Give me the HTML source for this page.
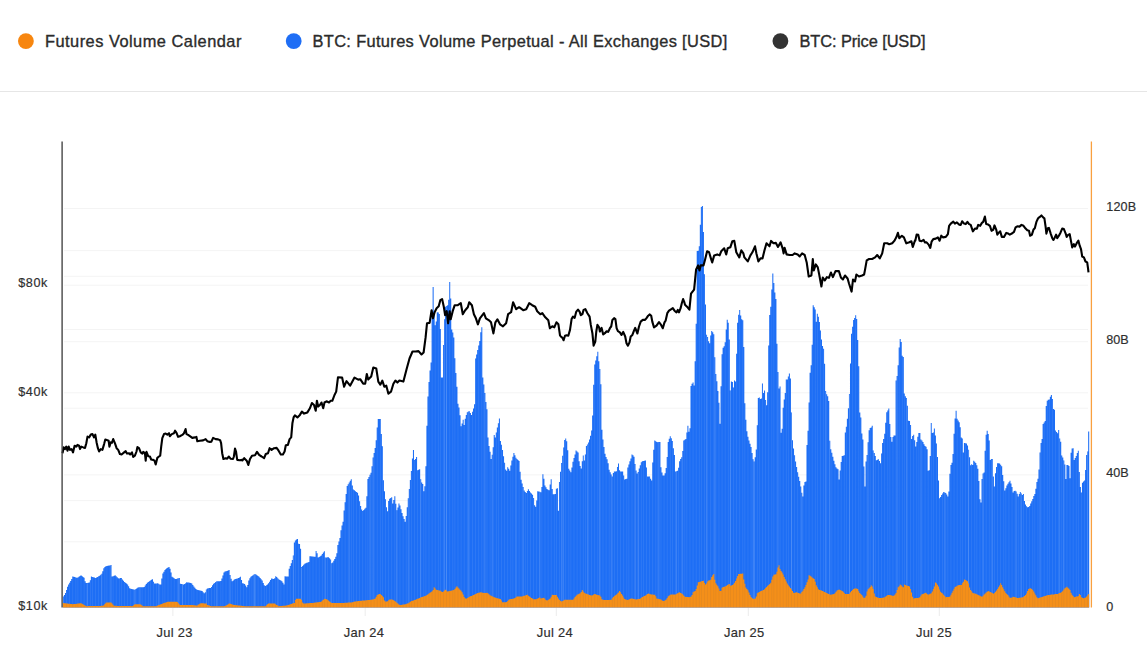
<!DOCTYPE html>
<html><head><meta charset="utf-8"><title>BTC Futures Volume</title>
<style>
html,body{margin:0;padding:0;background:#fff;}
body{width:1147px;height:661px;overflow:hidden;font-family:"Liberation Sans",sans-serif;}
svg{display:block}
text{font-family:"Liberation Sans",sans-serif;fill:#2e2e2e;stroke:#2e2e2e;stroke-width:.18px;}
text.lg{fill:#2b2b2b;stroke:#2b2b2b;stroke-width:.35px;}
</style></head><body>
<svg width="1147" height="661" viewBox="0 0 1147 661">
<rect width="1147" height="661" fill="#fff"/>
<circle cx="25.9" cy="41.1" r="7.9" fill="#f7860f"/>
<circle cx="293.7" cy="41.1" r="7.9" fill="#1f6ef5"/>
<circle cx="780.4" cy="41.1" r="7.9" fill="#333"/>
<line x1="0" x2="1147" y1="91.5" y2="91.5" stroke="#e6e6e6" stroke-width="1"/>
<g stroke="#f4f4f4" stroke-width="1"><line x1="64" x2="1088" y1="208.5" y2="208.5"/><line x1="64" x2="1088" y1="250.6" y2="250.6"/><line x1="64" x2="1088" y1="276.3" y2="276.3"/><line x1="64" x2="1088" y1="285.2" y2="285.2"/><line x1="64" x2="1088" y1="329.5" y2="329.5"/><line x1="64" x2="1088" y1="341.7" y2="341.7"/><line x1="64" x2="1088" y1="392.8" y2="392.8"/><line x1="64" x2="1088" y1="408.2" y2="408.2"/><line x1="64" x2="1088" y1="474.9" y2="474.9"/><line x1="64" x2="1088" y1="500.6" y2="500.6"/><line x1="64" x2="1088" y1="541.8" y2="541.8"/></g>
<g stroke="#ececec" stroke-width="1"><line x1="172.9" x2="172.9" y1="608" y2="616"/><line x1="365.2" x2="365.2" y1="608" y2="616"/><line x1="556.3" x2="556.3" y1="608" y2="616"/><line x1="748.3" x2="748.3" y1="608" y2="616"/><line x1="939.3" x2="939.3" y1="608" y2="616"/></g>
<path d="M62.90 607.5V596.6h1.036V607.5zM63.94 607.5V595.0h1.036V607.5zM64.97 607.5V593.0h1.036V607.5zM66.01 607.5V589.9h1.036V607.5zM67.04 607.5V586.8h1.036V607.5zM68.08 607.5V584.6h1.036V607.5zM69.11 607.5V582.8h1.036V607.5zM70.15 607.5V580.9h1.036V607.5zM71.18 607.5V579.1h1.036V607.5zM72.22 607.5V576.6h1.036V607.5zM73.26 607.5V576.8h1.036V607.5zM74.29 607.5V577.1h1.036V607.5zM75.33 607.5V577.5h1.036V607.5zM76.36 607.5V577.8h1.036V607.5zM77.40 607.5V577.4h1.036V607.5zM78.43 607.5V576.7h1.036V607.5zM79.47 607.5V576.0h1.036V607.5zM80.51 607.5V575.3h1.036V607.5zM81.54 607.5V576.1h1.036V607.5zM82.58 607.5V576.9h1.036V607.5zM83.61 607.5V577.7h1.036V607.5zM84.65 607.5V581.2h1.036V607.5zM85.68 607.5V583.1h1.036V607.5zM86.72 607.5V582.9h1.036V607.5zM87.75 607.5V582.7h1.036V607.5zM88.79 607.5V582.5h1.036V607.5zM89.83 607.5V580.3h1.036V607.5zM90.86 607.5V576.6h1.036V607.5zM91.90 607.5V576.9h1.036V607.5zM92.93 607.5V577.2h1.036V607.5zM93.97 607.5V577.5h1.036V607.5zM95.00 607.5V577.9h1.036V607.5zM96.04 607.5V577.4h1.036V607.5zM97.08 607.5V576.9h1.036V607.5zM98.11 607.5V576.3h1.036V607.5zM99.15 607.5V575.7h1.036V607.5zM100.18 607.5V574.7h1.036V607.5zM101.22 607.5V573.7h1.036V607.5zM102.25 607.5V571.3h1.036V607.5zM103.29 607.5V568.2h1.036V607.5zM104.32 607.5V566.9h1.036V607.5zM105.36 607.5V566.2h1.036V607.5zM106.40 607.5V565.9h1.036V607.5zM107.43 607.5V565.7h1.036V607.5zM108.47 607.5V565.5h1.036V607.5zM109.50 607.5V565.4h1.036V607.5zM110.54 607.5V565.1h1.036V607.5zM111.57 607.5V576.6h1.036V607.5zM112.61 607.5V576.2h1.036V607.5zM113.65 607.5V575.7h1.036V607.5zM114.68 607.5V575.3h1.036V607.5zM115.72 607.5V576.2h1.036V607.5zM116.75 607.5V577.3h1.036V607.5zM117.79 607.5V578.3h1.036V607.5zM118.82 607.5V578.4h1.036V607.5zM119.86 607.5V578.1h1.036V607.5zM120.89 607.5V577.9h1.036V607.5zM121.93 607.5V579.4h1.036V607.5zM122.97 607.5V580.7h1.036V607.5zM124.00 607.5V581.9h1.036V607.5zM125.04 607.5V582.7h1.036V607.5zM126.07 607.5V583.5h1.036V607.5zM127.11 607.5V584.4h1.036V607.5zM128.14 607.5V586.3h1.036V607.5zM129.18 607.5V588.3h1.036V607.5zM130.22 607.5V588.7h1.036V607.5zM131.25 607.5V588.9h1.036V607.5zM132.29 607.5V589.2h1.036V607.5zM133.32 607.5V589.4h1.036V607.5zM134.36 607.5V589.7h1.036V607.5zM135.39 607.5V589.1h1.036V607.5zM136.43 607.5V588.3h1.036V607.5zM137.46 607.5V587.6h1.036V607.5zM138.50 607.5V587.3h1.036V607.5zM139.54 607.5V587.3h1.036V607.5zM140.57 607.5V587.2h1.036V607.5zM141.61 607.5V587.2h1.036V607.5zM142.64 607.5V587.2h1.036V607.5zM143.68 607.5V587.1h1.036V607.5zM144.71 607.5V585.6h1.036V607.5zM145.75 607.5V584.0h1.036V607.5zM146.79 607.5V582.8h1.036V607.5zM147.82 607.5V582.0h1.036V607.5zM148.86 607.5V581.3h1.036V607.5zM149.89 607.5V580.5h1.036V607.5zM150.93 607.5V579.7h1.036V607.5zM151.96 607.5V579.2h1.036V607.5zM153.00 607.5V581.7h1.036V607.5zM154.03 607.5V583.5h1.036V607.5zM155.07 607.5V583.6h1.036V607.5zM156.11 607.5V583.4h1.036V607.5zM157.14 607.5V583.2h1.036V607.5zM158.18 607.5V583.7h1.036V607.5zM159.21 607.5V584.4h1.036V607.5zM160.25 607.5V584.5h1.036V607.5zM161.28 607.5V578.6h1.036V607.5zM162.32 607.5V573.6h1.036V607.5zM163.36 607.5V571.8h1.036V607.5zM164.39 607.5V570.0h1.036V607.5zM165.43 607.5V568.9h1.036V607.5zM166.46 607.5V568.1h1.036V607.5zM167.50 607.5V567.4h1.036V607.5zM168.53 607.5V567.0h1.036V607.5zM169.57 607.5V568.8h1.036V607.5zM170.60 607.5V572.6h1.036V607.5zM171.64 607.5V576.8h1.036V607.5zM172.68 607.5V577.5h1.036V607.5zM173.71 607.5V578.2h1.036V607.5zM174.75 607.5V578.9h1.036V607.5zM175.78 607.5V579.0h1.036V607.5zM176.82 607.5V578.6h1.036V607.5zM177.85 607.5V578.2h1.036V607.5zM178.89 607.5V577.9h1.036V607.5zM179.93 607.5V583.8h1.036V607.5zM180.96 607.5V584.0h1.036V607.5zM182.00 607.5V584.2h1.036V607.5zM183.03 607.5V584.4h1.036V607.5zM184.07 607.5V583.9h1.036V607.5zM185.10 607.5V583.2h1.036V607.5zM186.14 607.5V582.2h1.036V607.5zM187.17 607.5V582.4h1.036V607.5zM188.21 607.5V582.6h1.036V607.5zM189.25 607.5V582.8h1.036V607.5zM190.28 607.5V583.0h1.036V607.5zM191.32 607.5V583.5h1.036V607.5zM192.35 607.5V585.1h1.036V607.5zM193.39 607.5V586.6h1.036V607.5zM194.42 607.5V587.8h1.036V607.5zM195.46 607.5V588.9h1.036V607.5zM196.50 607.5V589.8h1.036V607.5zM197.53 607.5V590.0h1.036V607.5zM198.57 607.5V590.3h1.036V607.5zM199.60 607.5V590.6h1.036V607.5zM200.64 607.5V590.8h1.036V607.5zM201.67 607.5V591.1h1.036V607.5zM202.71 607.5V592.2h1.036V607.5zM203.74 607.5V593.2h1.036V607.5zM204.78 607.5V592.2h1.036V607.5zM205.82 607.5V589.4h1.036V607.5zM206.85 607.5V588.4h1.036V607.5zM207.89 607.5V588.2h1.036V607.5zM208.92 607.5V588.1h1.036V607.5zM209.96 607.5V588.0h1.036V607.5zM210.99 607.5V586.9h1.036V607.5zM212.03 607.5V585.3h1.036V607.5zM213.06 607.5V583.8h1.036V607.5zM214.10 607.5V583.0h1.036V607.5zM215.14 607.5V582.1h1.036V607.5zM216.17 607.5V581.3h1.036V607.5zM217.21 607.5V581.2h1.036V607.5zM218.24 607.5V581.2h1.036V607.5zM219.28 607.5V581.2h1.036V607.5zM220.31 607.5V581.1h1.036V607.5zM221.35 607.5V578.5h1.036V607.5zM222.39 607.5V575.5h1.036V607.5zM223.42 607.5V572.4h1.036V607.5zM224.46 607.5V571.6h1.036V607.5zM225.49 607.5V571.2h1.036V607.5zM226.53 607.5V570.9h1.036V607.5zM227.56 607.5V570.5h1.036V607.5zM228.60 607.5V570.0h1.036V607.5zM229.63 607.5V574.9h1.036V607.5zM230.67 607.5V578.8h1.036V607.5zM231.71 607.5V581.2h1.036V607.5zM232.74 607.5V580.6h1.036V607.5zM233.78 607.5V579.5h1.036V607.5zM234.81 607.5V579.0h1.036V607.5zM235.85 607.5V578.8h1.036V607.5zM236.88 607.5V578.5h1.036V607.5zM237.92 607.5V577.9h1.036V607.5zM238.96 607.5V577.4h1.036V607.5zM239.99 607.5V576.8h1.036V607.5zM241.03 607.5V580.1h1.036V607.5zM242.06 607.5V583.2h1.036V607.5zM243.10 607.5V583.5h1.036V607.5zM244.13 607.5V584.1h1.036V607.5zM245.17 607.5V585.6h1.036V607.5zM246.20 607.5V587.2h1.036V607.5zM247.24 607.5V584.9h1.036V607.5zM248.28 607.5V580.4h1.036V607.5zM249.31 607.5V578.2h1.036V607.5zM250.35 607.5V576.8h1.036V607.5zM251.38 607.5V576.0h1.036V607.5zM252.42 607.5V575.3h1.036V607.5zM253.45 607.5V574.6h1.036V607.5zM254.49 607.5V573.9h1.036V607.5zM255.53 607.5V574.6h1.036V607.5zM256.56 607.5V575.3h1.036V607.5zM257.60 607.5V576.0h1.036V607.5zM258.63 607.5V576.8h1.036V607.5zM259.67 607.5V578.1h1.036V607.5zM260.70 607.5V579.3h1.036V607.5zM261.74 607.5V580.6h1.036V607.5zM262.77 607.5V582.9h1.036V607.5zM263.81 607.5V585.2h1.036V607.5zM264.85 607.5V586.1h1.036V607.5zM265.88 607.5V585.2h1.036V607.5zM266.92 607.5V584.4h1.036V607.5zM267.95 607.5V583.3h1.036V607.5zM268.99 607.5V581.7h1.036V607.5zM270.02 607.5V580.0h1.036V607.5zM271.06 607.5V578.6h1.036V607.5zM272.10 607.5V578.8h1.036V607.5zM273.13 607.5V579.1h1.036V607.5zM274.17 607.5V578.3h1.036V607.5zM275.20 607.5V576.3h1.036V607.5zM276.24 607.5V577.1h1.036V607.5zM277.27 607.5V578.2h1.036V607.5zM278.31 607.5V579.3h1.036V607.5zM279.34 607.5V580.1h1.036V607.5zM280.38 607.5V580.6h1.036V607.5zM281.42 607.5V581.2h1.036V607.5zM282.45 607.5V582.8h1.036V607.5zM283.49 607.5V584.5h1.036V607.5zM284.52 607.5V576.3h1.036V607.5zM285.56 607.5V576.4h1.036V607.5zM286.59 607.5V576.5h1.036V607.5zM287.63 607.5V576.6h1.036V607.5zM288.67 607.5V568.8h1.036V607.5zM289.70 607.5V566.0h1.036V607.5zM290.74 607.5V563.2h1.036V607.5zM291.77 607.5V560.1h1.036V607.5zM292.81 607.5V555.4h1.036V607.5zM293.84 607.5V542.5h1.036V607.5zM294.88 607.5V540.4h1.036V607.5zM295.91 607.5V539.6h1.036V607.5zM296.95 607.5V539.1h1.036V607.5zM297.99 607.5V543.7h1.036V607.5zM299.02 607.5V544.1h1.036V607.5zM300.06 607.5V548.8h1.036V607.5zM301.09 607.5V567.1h1.036V607.5zM302.13 607.5V565.9h1.036V607.5zM303.16 607.5V564.8h1.036V607.5zM304.20 607.5V563.7h1.036V607.5zM305.24 607.5V563.2h1.036V607.5zM306.27 607.5V562.8h1.036V607.5zM307.31 607.5V562.5h1.036V607.5zM308.34 607.5V562.1h1.036V607.5zM309.38 607.5V556.2h1.036V607.5zM310.41 607.5V556.3h1.036V607.5zM311.45 607.5V556.4h1.036V607.5zM312.48 607.5V556.5h1.036V607.5zM313.52 607.5V556.7h1.036V607.5zM314.56 607.5V556.8h1.036V607.5zM315.59 607.5V550.9h1.036V607.5zM316.63 607.5V553.3h1.036V607.5zM317.66 607.5V557.5h1.036V607.5zM318.70 607.5V556.9h1.036V607.5zM319.73 607.5V556.2h1.036V607.5zM320.77 607.5V555.6h1.036V607.5zM321.81 607.5V554.1h1.036V607.5zM322.84 607.5V552.4h1.036V607.5zM323.88 607.5V551.2h1.036V607.5zM324.91 607.5V557.5h1.036V607.5zM325.95 607.5V557.4h1.036V607.5zM326.98 607.5V557.3h1.036V607.5zM328.02 607.5V557.2h1.036V607.5zM329.05 607.5V558.2h1.036V607.5zM330.09 607.5V559.4h1.036V607.5zM331.13 607.5V563.2h1.036V607.5zM332.16 607.5V562.5h1.036V607.5zM333.20 607.5V560.7h1.036V607.5zM334.23 607.5V558.9h1.036V607.5zM335.27 607.5V556.8h1.036V607.5zM336.30 607.5V553.2h1.036V607.5zM337.34 607.5V545.1h1.036V607.5zM338.38 607.5V541.6h1.036V607.5zM339.41 607.5V537.9h1.036V607.5zM340.45 607.5V530.2h1.036V607.5zM341.48 607.5V525.5h1.036V607.5zM342.52 607.5V521.7h1.036V607.5zM343.55 607.5V510.5h1.036V607.5zM344.59 607.5V502.2h1.036V607.5zM345.62 607.5V494.0h1.036V607.5zM346.66 607.5V486.1h1.036V607.5zM347.70 607.5V484.3h1.036V607.5zM348.73 607.5V482.5h1.036V607.5zM349.77 607.5V480.7h1.036V607.5zM350.80 607.5V479.2h1.036V607.5zM351.84 607.5V485.4h1.036V607.5zM352.87 607.5V489.5h1.036V607.5zM353.91 607.5V490.3h1.036V607.5zM354.95 607.5V491.2h1.036V607.5zM355.98 607.5V492.0h1.036V607.5zM357.02 607.5V492.8h1.036V607.5zM358.05 607.5V495.5h1.036V607.5zM359.09 607.5V501.2h1.036V607.5zM360.12 607.5V506.0h1.036V607.5zM361.16 607.5V509.6h1.036V607.5zM362.19 607.5V510.9h1.036V607.5zM363.23 607.5V509.9h1.036V607.5zM364.27 607.5V508.8h1.036V607.5zM365.30 607.5V507.8h1.036V607.5zM366.34 607.5V496.3h1.036V607.5zM367.37 607.5V479.1h1.036V607.5zM368.41 607.5V477.0h1.036V607.5zM369.44 607.5V474.8h1.036V607.5zM370.48 607.5V472.7h1.036V607.5zM371.51 607.5V466.3h1.036V607.5zM372.55 607.5V457.6h1.036V607.5zM373.59 607.5V453.1h1.036V607.5zM374.62 607.5V448.1h1.036V607.5zM375.66 607.5V440.3h1.036V607.5zM376.69 607.5V427.6h1.036V607.5zM377.73 607.5V419.1h1.036V607.5zM378.76 607.5V419.1h1.036V607.5zM379.80 607.5V419.1h1.036V607.5zM380.84 607.5V434.0h1.036V607.5zM381.87 607.5V446.3h1.036V607.5zM382.91 607.5V480.2h1.036V607.5zM383.94 607.5V491.3h1.036V607.5zM384.98 607.5V499.3h1.036V607.5zM386.01 607.5V507.2h1.036V607.5zM387.05 607.5V511.2h1.036V607.5zM388.08 607.5V500.9h1.036V607.5zM389.12 607.5V498.7h1.036V607.5zM390.16 607.5V497.9h1.036V607.5zM391.19 607.5V497.3h1.036V607.5zM392.23 607.5V503.4h1.036V607.5zM393.26 607.5V499.9h1.036V607.5zM394.30 607.5V496.3h1.036V607.5zM395.33 607.5V503.8h1.036V607.5zM396.37 607.5V510.2h1.036V607.5zM397.41 607.5V507.4h1.036V607.5zM398.44 607.5V503.4h1.036V607.5zM399.48 607.5V505.5h1.036V607.5zM400.51 607.5V509.3h1.036V607.5zM401.55 607.5V513.1h1.036V607.5zM402.58 607.5V516.2h1.036V607.5zM403.62 607.5V519.0h1.036V607.5zM404.65 607.5V521.7h1.036V607.5zM405.69 607.5V516.1h1.036V607.5zM406.73 607.5V507.3h1.036V607.5zM407.76 607.5V498.2h1.036V607.5zM408.80 607.5V489.0h1.036V607.5zM409.83 607.5V479.9h1.036V607.5zM410.87 607.5V471.1h1.036V607.5zM411.90 607.5V458.5h1.036V607.5zM412.94 607.5V450.1h1.036V607.5zM413.98 607.5V460.1h1.036V607.5zM415.01 607.5V459.0h1.036V607.5zM416.05 607.5V457.1h1.036V607.5zM417.08 607.5V470.2h1.036V607.5zM418.12 607.5V469.7h1.036V607.5zM419.15 607.5V469.2h1.036V607.5zM420.19 607.5V479.2h1.036V607.5zM421.22 607.5V482.4h1.036V607.5zM422.26 607.5V484.0h1.036V607.5zM423.30 607.5V491.3h1.036V607.5zM424.33 607.5V486.3h1.036V607.5zM425.37 607.5V466.3h1.036V607.5zM426.40 607.5V425.7h1.036V607.5zM427.44 607.5V396.6h1.036V607.5zM428.47 607.5V381.9h1.036V607.5zM429.51 607.5V370.4h1.036V607.5zM430.55 607.5V362.6h1.036V607.5zM431.58 607.5V315.2h1.036V607.5zM432.62 607.5V287.1h1.036V607.5zM433.65 607.5V311.5h1.036V607.5zM434.69 607.5V325.3h1.036V607.5zM435.72 607.5V321.4h1.036V607.5zM436.76 607.5V312.2h1.036V607.5zM437.79 607.5V312.6h1.036V607.5zM438.83 607.5V314.1h1.036V607.5zM439.87 607.5V329.0h1.036V607.5zM440.90 607.5V377.6h1.036V607.5zM441.94 607.5V377.6h1.036V607.5zM442.97 607.5V345.0h1.036V607.5zM444.01 607.5V319.3h1.036V607.5zM445.04 607.5V306.8h1.036V607.5zM446.08 607.5V306.0h1.036V607.5zM447.12 607.5V305.2h1.036V607.5zM448.15 607.5V299.7h1.036V607.5zM449.19 607.5V282.0h1.036V607.5zM450.22 607.5V298.6h1.036V607.5zM451.26 607.5V329.5h1.036V607.5zM452.29 607.5V332.6h1.036V607.5zM453.33 607.5V337.4h1.036V607.5zM454.36 607.5V358.2h1.036V607.5zM455.40 607.5V373.1h1.036V607.5zM456.44 607.5V386.8h1.036V607.5zM457.47 607.5V403.8h1.036V607.5zM458.51 607.5V407.4h1.036V607.5zM459.54 607.5V415.2h1.036V607.5zM460.58 607.5V426.3h1.036V607.5zM461.61 607.5V423.6h1.036V607.5zM462.65 607.5V419.7h1.036V607.5zM463.69 607.5V425.0h1.036V607.5zM464.72 607.5V418.8h1.036V607.5zM465.76 607.5V415.1h1.036V607.5zM466.79 607.5V412.3h1.036V607.5zM467.83 607.5V411.6h1.036V607.5zM468.86 607.5V411.2h1.036V607.5zM469.90 607.5V413.1h1.036V607.5zM470.93 607.5V415.1h1.036V607.5zM471.97 607.5V411.8h1.036V607.5zM473.01 607.5V408.4h1.036V607.5zM474.04 607.5V404.2h1.036V607.5zM475.08 607.5V358.6h1.036V607.5zM476.11 607.5V354.5h1.036V607.5zM477.15 607.5V350.1h1.036V607.5zM478.18 607.5V345.6h1.036V607.5zM479.22 607.5V341.1h1.036V607.5zM480.26 607.5V332.3h1.036V607.5zM481.29 607.5V327.3h1.036V607.5zM482.33 607.5V377.6h1.036V607.5zM483.36 607.5V384.4h1.036V607.5zM484.40 607.5V393.1h1.036V607.5zM485.43 607.5V401.9h1.036V607.5zM486.47 607.5V409.2h1.036V607.5zM487.50 607.5V437.5h1.036V607.5zM488.54 607.5V446.1h1.036V607.5zM489.58 607.5V451.7h1.036V607.5zM490.61 607.5V459.1h1.036V607.5zM491.65 607.5V454.8h1.036V607.5zM492.68 607.5V447.3h1.036V607.5zM493.72 607.5V435.1h1.036V607.5zM494.75 607.5V437.6h1.036V607.5zM495.79 607.5V432.5h1.036V607.5zM496.83 607.5V427.5h1.036V607.5zM497.86 607.5V423.2h1.036V607.5zM498.90 607.5V418.5h1.036V607.5zM499.93 607.5V441.0h1.036V607.5zM500.97 607.5V444.7h1.036V607.5zM502.00 607.5V450.0h1.036V607.5zM503.04 607.5V456.2h1.036V607.5zM504.07 607.5V462.7h1.036V607.5zM505.11 607.5V469.4h1.036V607.5zM506.15 607.5V470.7h1.036V607.5zM507.18 607.5V467.2h1.036V607.5zM508.22 607.5V468.8h1.036V607.5zM509.25 607.5V470.7h1.036V607.5zM510.29 607.5V465.5h1.036V607.5zM511.32 607.5V460.4h1.036V607.5zM512.36 607.5V456.8h1.036V607.5zM513.39 607.5V453.1h1.036V607.5zM514.43 607.5V455.2h1.036V607.5zM515.47 607.5V457.8h1.036V607.5zM516.50 607.5V459.0h1.036V607.5zM517.54 607.5V460.0h1.036V607.5zM518.57 607.5V461.1h1.036V607.5zM519.61 607.5V471.7h1.036V607.5zM520.64 607.5V479.7h1.036V607.5zM521.68 607.5V483.4h1.036V607.5zM522.72 607.5V487.0h1.036V607.5zM523.75 607.5V490.5h1.036V607.5zM524.79 607.5V492.0h1.036V607.5zM525.82 607.5V493.0h1.036V607.5zM526.86 607.5V490.9h1.036V607.5zM527.89 607.5V489.3h1.036V607.5zM528.93 607.5V491.0h1.036V607.5zM529.96 607.5V492.4h1.036V607.5zM531.00 607.5V493.6h1.036V607.5zM532.04 607.5V494.7h1.036V607.5zM533.07 607.5V497.9h1.036V607.5zM534.11 607.5V505.2h1.036V607.5zM535.14 607.5V506.8h1.036V607.5zM536.18 607.5V500.6h1.036V607.5zM537.21 607.5V491.3h1.036V607.5zM538.25 607.5V491.5h1.036V607.5zM539.29 607.5V491.8h1.036V607.5zM540.32 607.5V492.2h1.036V607.5zM541.36 607.5V486.9h1.036V607.5zM542.39 607.5V474.2h1.036V607.5zM543.43 607.5V478.8h1.036V607.5zM544.46 607.5V485.4h1.036V607.5zM545.50 607.5V487.2h1.036V607.5zM546.53 607.5V488.9h1.036V607.5zM547.57 607.5V489.7h1.036V607.5zM548.61 607.5V490.3h1.036V607.5zM549.64 607.5V484.5h1.036V607.5zM550.68 607.5V479.2h1.036V607.5zM551.71 607.5V489.0h1.036V607.5zM552.75 607.5V494.3h1.036V607.5zM553.78 607.5V494.3h1.036V607.5zM554.82 607.5V493.9h1.036V607.5zM555.86 607.5V488.7h1.036V607.5zM556.89 607.5V488.3h1.036V607.5zM557.93 607.5V510.8h1.036V607.5zM558.96 607.5V482.1h1.036V607.5zM560.00 607.5V471.7h1.036V607.5zM561.03 607.5V462.9h1.036V607.5zM562.07 607.5V455.7h1.036V607.5zM563.10 607.5V447.5h1.036V607.5zM564.14 607.5V440.1h1.036V607.5zM565.18 607.5V438.4h1.036V607.5zM566.21 607.5V441.2h1.036V607.5zM567.25 607.5V450.2h1.036V607.5zM568.28 607.5V468.7h1.036V607.5zM569.32 607.5V470.5h1.036V607.5zM570.35 607.5V472.2h1.036V607.5zM571.39 607.5V467.5h1.036V607.5zM572.43 607.5V461.7h1.036V607.5zM573.46 607.5V458.0h1.036V607.5zM574.50 607.5V454.4h1.036V607.5zM575.53 607.5V450.4h1.036V607.5zM576.57 607.5V451.4h1.036V607.5zM577.60 607.5V452.4h1.036V607.5zM578.64 607.5V461.2h1.036V607.5zM579.67 607.5V466.1h1.036V607.5zM580.71 607.5V468.5h1.036V607.5zM581.75 607.5V461.3h1.036V607.5zM582.78 607.5V455.5h1.036V607.5zM583.82 607.5V460.5h1.036V607.5zM584.85 607.5V454.6h1.036V607.5zM585.89 607.5V446.1h1.036V607.5zM586.92 607.5V444.5h1.036V607.5zM587.96 607.5V442.5h1.036V607.5zM589.00 607.5V439.4h1.036V607.5zM590.03 607.5V435.7h1.036V607.5zM591.07 607.5V430.5h1.036V607.5zM592.10 607.5V415.5h1.036V607.5zM593.14 607.5V384.8h1.036V607.5zM594.17 607.5V364.5h1.036V607.5zM595.21 607.5V360.4h1.036V607.5zM596.24 607.5V356.3h1.036V607.5zM597.28 607.5V351.7h1.036V607.5zM598.32 607.5V361.2h1.036V607.5zM599.35 607.5V368.9h1.036V607.5zM600.39 607.5V384.2h1.036V607.5zM601.42 607.5V429.7h1.036V607.5zM602.46 607.5V439.4h1.036V607.5zM603.49 607.5V447.1h1.036V607.5zM604.53 607.5V453.8h1.036V607.5zM605.57 607.5V457.1h1.036V607.5zM606.60 607.5V459.2h1.036V607.5zM607.64 607.5V463.2h1.036V607.5zM608.67 607.5V469.7h1.036V607.5zM609.71 607.5V472.3h1.036V607.5zM610.74 607.5V474.4h1.036V607.5zM611.78 607.5V476.5h1.036V607.5zM612.81 607.5V473.0h1.036V607.5zM613.85 607.5V471.5h1.036V607.5zM614.89 607.5V471.5h1.036V607.5zM615.92 607.5V471.3h1.036V607.5zM616.96 607.5V467.1h1.036V607.5zM617.99 607.5V463.5h1.036V607.5zM619.03 607.5V470.2h1.036V607.5zM620.06 607.5V471.5h1.036V607.5zM621.10 607.5V471.5h1.036V607.5zM622.14 607.5V471.5h1.036V607.5zM623.17 607.5V475.4h1.036V607.5zM624.21 607.5V479.5h1.036V607.5zM625.24 607.5V479.1h1.036V607.5zM626.28 607.5V478.7h1.036V607.5zM627.31 607.5V467.6h1.036V607.5zM628.35 607.5V464.4h1.036V607.5zM629.38 607.5V461.3h1.036V607.5zM630.42 607.5V458.6h1.036V607.5zM631.46 607.5V454.4h1.036V607.5zM632.49 607.5V455.3h1.036V607.5zM633.53 607.5V456.8h1.036V607.5zM634.56 607.5V464.1h1.036V607.5zM635.60 607.5V470.4h1.036V607.5zM636.63 607.5V473.5h1.036V607.5zM637.67 607.5V472.1h1.036V607.5zM638.71 607.5V468.5h1.036V607.5zM639.74 607.5V465.3h1.036V607.5zM640.78 607.5V462.2h1.036V607.5zM641.81 607.5V461.3h1.036V607.5zM642.85 607.5V461.1h1.036V607.5zM643.88 607.5V460.8h1.036V607.5zM644.92 607.5V460.5h1.036V607.5zM645.95 607.5V467.5h1.036V607.5zM646.99 607.5V476.6h1.036V607.5zM648.03 607.5V476.6h1.036V607.5zM649.06 607.5V476.6h1.036V607.5zM650.10 607.5V478.7h1.036V607.5zM651.13 607.5V480.6h1.036V607.5zM652.17 607.5V462.6h1.036V607.5zM653.20 607.5V449.8h1.036V607.5zM654.24 607.5V440.4h1.036V607.5zM655.27 607.5V441.2h1.036V607.5zM656.31 607.5V442.1h1.036V607.5zM657.35 607.5V442.3h1.036V607.5zM658.38 607.5V442.1h1.036V607.5zM659.42 607.5V442.0h1.036V607.5zM660.45 607.5V467.2h1.036V607.5zM661.49 607.5V472.4h1.036V607.5zM662.52 607.5V475.6h1.036V607.5zM663.56 607.5V475.6h1.036V607.5zM664.60 607.5V473.3h1.036V607.5zM665.63 607.5V468.1h1.036V607.5zM666.67 607.5V457.1h1.036V607.5zM667.70 607.5V441.9h1.036V607.5zM668.74 607.5V438.8h1.036V607.5zM669.77 607.5V436.3h1.036V607.5zM670.81 607.5V438.2h1.036V607.5zM671.84 607.5V441.1h1.036V607.5zM672.88 607.5V448.3h1.036V607.5zM673.92 607.5V454.9h1.036V607.5zM674.95 607.5V471.5h1.036V607.5zM675.99 607.5V471.2h1.036V607.5zM677.02 607.5V470.8h1.036V607.5zM678.06 607.5V467.8h1.036V607.5zM679.09 607.5V461.3h1.036V607.5zM680.13 607.5V459.0h1.036V607.5zM681.17 607.5V457.3h1.036V607.5zM682.20 607.5V450.9h1.036V607.5zM683.24 607.5V440.5h1.036V607.5zM684.27 607.5V439.7h1.036V607.5zM685.31 607.5V439.0h1.036V607.5zM686.34 607.5V432.6h1.036V607.5zM687.38 607.5V425.7h1.036V607.5zM688.41 607.5V431.7h1.036V607.5zM689.45 607.5V428.3h1.036V607.5zM690.49 607.5V386.1h1.036V607.5zM691.52 607.5V383.8h1.036V607.5zM692.56 607.5V382.4h1.036V607.5zM693.59 607.5V385.4h1.036V607.5zM694.63 607.5V361.3h1.036V607.5zM695.66 607.5V323.8h1.036V607.5zM696.70 607.5V251.1h1.036V607.5zM697.74 607.5V250.7h1.036V607.5zM698.77 607.5V246.2h1.036V607.5zM699.81 607.5V224.8h1.036V607.5zM700.84 607.5V206.9h1.036V607.5zM701.88 607.5V206.1h1.036V607.5zM702.91 607.5V231.9h1.036V607.5zM703.95 607.5V274.3h1.036V607.5zM704.98 607.5V304.4h1.036V607.5zM706.02 607.5V334.8h1.036V607.5zM707.06 607.5V337.1h1.036V607.5zM708.09 607.5V341.2h1.036V607.5zM709.13 607.5V343.2h1.036V607.5zM710.16 607.5V335.5h1.036V607.5zM711.20 607.5V331.1h1.036V607.5zM712.23 607.5V332.3h1.036V607.5zM713.27 607.5V334.3h1.036V607.5zM714.31 607.5V357.2h1.036V607.5zM715.34 607.5V374.1h1.036V607.5zM716.38 607.5V381.3h1.036V607.5zM717.41 607.5V391.1h1.036V607.5zM718.45 607.5V402.8h1.036V607.5zM719.48 607.5V423.7h1.036V607.5zM720.52 607.5V386.2h1.036V607.5zM721.55 607.5V354.3h1.036V607.5zM722.59 607.5V347.8h1.036V607.5zM723.63 607.5V346.2h1.036V607.5zM724.66 607.5V342.3h1.036V607.5zM725.70 607.5V329.6h1.036V607.5zM726.73 607.5V319.7h1.036V607.5zM727.77 607.5V322.8h1.036V607.5zM728.80 607.5V339.6h1.036V607.5zM729.84 607.5V390.5h1.036V607.5zM730.88 607.5V381.4h1.036V607.5zM731.91 607.5V382.0h1.036V607.5zM732.95 607.5V387.4h1.036V607.5zM733.98 607.5V380.4h1.036V607.5zM735.02 607.5V381.4h1.036V607.5zM736.05 607.5V353.7h1.036V607.5zM737.09 607.5V322.8h1.036V607.5zM738.12 607.5V314.8h1.036V607.5zM739.16 607.5V310.1h1.036V607.5zM740.20 607.5V315.4h1.036V607.5zM741.23 607.5V319.2h1.036V607.5zM742.27 607.5V320.2h1.036V607.5zM743.30 607.5V347.1h1.036V607.5zM744.34 607.5V403.3h1.036V607.5zM745.37 607.5V419.7h1.036V607.5zM746.41 607.5V431.2h1.036V607.5zM747.45 607.5V436.7h1.036V607.5zM748.48 607.5V440.5h1.036V607.5zM749.52 607.5V443.8h1.036V607.5zM750.55 607.5V446.9h1.036V607.5zM751.59 607.5V453.0h1.036V607.5zM752.62 607.5V459.2h1.036V607.5zM753.66 607.5V461.5h1.036V607.5zM754.69 607.5V457.3h1.036V607.5zM755.73 607.5V449.4h1.036V607.5zM756.77 607.5V425.3h1.036V607.5zM757.80 607.5V398.1h1.036V607.5zM758.84 607.5V397.5h1.036V607.5zM759.87 607.5V399.1h1.036V607.5zM760.91 607.5V398.5h1.036V607.5zM761.94 607.5V383.4h1.036V607.5zM762.98 607.5V393.1h1.036V607.5zM764.02 607.5V390.5h1.036V607.5zM765.05 607.5V400.1h1.036V607.5zM766.09 607.5V405.2h1.036V607.5zM767.12 607.5V392.2h1.036V607.5zM768.16 607.5V345.4h1.036V607.5zM769.19 607.5V315.1h1.036V607.5zM770.23 607.5V306.7h1.036V607.5zM771.26 607.5V289.4h1.036V607.5zM772.30 607.5V273.5h1.036V607.5zM773.34 607.5V283.0h1.036V607.5zM774.37 607.5V292.5h1.036V607.5zM775.41 607.5V299.0h1.036V607.5zM776.44 607.5V343.7h1.036V607.5zM777.48 607.5V371.9h1.036V607.5zM778.51 607.5V388.4h1.036V607.5zM779.55 607.5V386.4h1.036V607.5zM780.59 607.5V432.7h1.036V607.5zM781.62 607.5V428.8h1.036V607.5zM782.66 607.5V407.8h1.036V607.5zM783.69 607.5V399.5h1.036V607.5zM784.73 607.5V393.1h1.036V607.5zM785.76 607.5V379.4h1.036V607.5zM786.80 607.5V379.4h1.036V607.5zM787.83 607.5V376.6h1.036V607.5zM788.87 607.5V373.4h1.036V607.5zM789.91 607.5V378.5h1.036V607.5zM790.94 607.5V412.4h1.036V607.5zM791.98 607.5V440.3h1.036V607.5zM793.01 607.5V448.5h1.036V607.5zM794.05 607.5V455.3h1.036V607.5zM795.08 607.5V461.5h1.036V607.5zM796.12 607.5V467.1h1.036V607.5zM797.15 607.5V472.3h1.036V607.5zM798.19 607.5V476.8h1.036V607.5zM799.23 607.5V481.0h1.036V607.5zM800.26 607.5V486.5h1.036V607.5zM801.30 607.5V492.7h1.036V607.5zM802.33 607.5V496.5h1.036V607.5zM803.37 607.5V485.6h1.036V607.5zM804.40 607.5V482.0h1.036V607.5zM805.44 607.5V481.5h1.036V607.5zM806.48 607.5V445.0h1.036V607.5zM807.51 607.5V430.8h1.036V607.5zM808.55 607.5V402.4h1.036V607.5zM809.58 607.5V372.8h1.036V607.5zM810.62 607.5V365.2h1.036V607.5zM811.65 607.5V344.8h1.036V607.5zM812.69 607.5V305.3h1.036V607.5zM813.72 607.5V307.2h1.036V607.5zM814.76 607.5V309.5h1.036V607.5zM815.80 607.5V321.8h1.036V607.5zM816.83 607.5V313.7h1.036V607.5zM817.87 607.5V316.7h1.036V607.5zM818.90 607.5V321.9h1.036V607.5zM819.94 607.5V330.6h1.036V607.5zM820.97 607.5V339.5h1.036V607.5zM822.01 607.5V346.1h1.036V607.5zM823.05 607.5V348.7h1.036V607.5zM824.08 607.5V363.7h1.036V607.5zM825.12 607.5V391.0h1.036V607.5zM826.15 607.5V394.3h1.036V607.5zM827.19 607.5V396.2h1.036V607.5zM828.22 607.5V400.9h1.036V607.5zM829.26 607.5V440.8h1.036V607.5zM830.29 607.5V449.3h1.036V607.5zM831.33 607.5V452.8h1.036V607.5zM832.37 607.5V456.8h1.036V607.5zM833.40 607.5V460.8h1.036V607.5zM834.44 607.5V464.2h1.036V607.5zM835.47 607.5V467.3h1.036V607.5zM836.51 607.5V468.6h1.036V607.5zM837.54 607.5V469.2h1.036V607.5zM838.58 607.5V479.4h1.036V607.5zM839.62 607.5V470.5h1.036V607.5zM840.65 607.5V462.0h1.036V607.5zM841.69 607.5V456.1h1.036V607.5zM842.72 607.5V455.7h1.036V607.5zM843.76 607.5V455.2h1.036V607.5zM844.79 607.5V432.5h1.036V607.5zM845.83 607.5V426.8h1.036V607.5zM846.86 607.5V418.7h1.036V607.5zM847.90 607.5V408.3h1.036V607.5zM848.94 607.5V394.0h1.036V607.5zM849.97 607.5V363.4h1.036V607.5zM851.01 607.5V333.7h1.036V607.5zM852.04 607.5V326.8h1.036V607.5zM853.08 607.5V319.9h1.036V607.5zM854.11 607.5V317.9h1.036V607.5zM855.15 607.5V315.3h1.036V607.5zM856.19 607.5V318.9h1.036V607.5zM857.22 607.5V339.9h1.036V607.5zM858.26 607.5V366.3h1.036V607.5zM859.29 607.5V412.4h1.036V607.5zM860.33 607.5V417.6h1.036V607.5zM861.36 607.5V433.4h1.036V607.5zM862.40 607.5V439.5h1.036V607.5zM863.43 607.5V466.6h1.036V607.5zM864.47 607.5V486.4h1.036V607.5zM865.51 607.5V461.4h1.036V607.5zM866.54 607.5V454.9h1.036V607.5zM867.58 607.5V442.2h1.036V607.5zM868.61 607.5V430.3h1.036V607.5zM869.65 607.5V428.1h1.036V607.5zM870.68 607.5V427.5h1.036V607.5zM871.72 607.5V425.8h1.036V607.5zM872.76 607.5V450.5h1.036V607.5zM873.79 607.5V453.1h1.036V607.5zM874.83 607.5V455.9h1.036V607.5zM875.86 607.5V460.2h1.036V607.5zM876.90 607.5V459.8h1.036V607.5zM877.93 607.5V459.2h1.036V607.5zM878.97 607.5V461.1h1.036V607.5zM880.00 607.5V463.2h1.036V607.5zM881.04 607.5V453.4h1.036V607.5zM882.08 607.5V443.1h1.036V607.5zM883.11 607.5V439.1h1.036V607.5zM884.15 607.5V433.8h1.036V607.5zM885.18 607.5V422.7h1.036V607.5zM886.22 607.5V412.3h1.036V607.5zM887.25 607.5V410.4h1.036V607.5zM888.29 607.5V408.6h1.036V607.5zM889.33 607.5V424.0h1.036V607.5zM890.36 607.5V436.9h1.036V607.5zM891.40 607.5V441.8h1.036V607.5zM892.43 607.5V437.0h1.036V607.5zM893.47 607.5V435.6h1.036V607.5zM894.50 607.5V435.4h1.036V607.5zM895.54 607.5V380.5h1.036V607.5zM896.57 607.5V375.9h1.036V607.5zM897.61 607.5V365.2h1.036V607.5zM898.65 607.5V347.5h1.036V607.5zM899.68 607.5V339.1h1.036V607.5zM900.72 607.5V342.0h1.036V607.5zM901.75 607.5V355.8h1.036V607.5zM902.79 607.5V357.1h1.036V607.5zM903.82 607.5V393.5h1.036V607.5zM904.86 607.5V396.2h1.036V607.5zM905.90 607.5V398.1h1.036V607.5zM906.93 607.5V405.7h1.036V607.5zM907.97 607.5V420.7h1.036V607.5zM909.00 607.5V421.0h1.036V607.5zM910.04 607.5V424.9h1.036V607.5zM911.07 607.5V439.1h1.036V607.5zM912.11 607.5V436.1h1.036V607.5zM913.14 607.5V434.7h1.036V607.5zM914.18 607.5V440.2h1.036V607.5zM915.22 607.5V446.5h1.036V607.5zM916.25 607.5V442.1h1.036V607.5zM917.29 607.5V436.8h1.036V607.5zM918.32 607.5V432.9h1.036V607.5zM919.36 607.5V433.1h1.036V607.5zM920.39 607.5V439.5h1.036V607.5zM921.43 607.5V440.6h1.036V607.5zM922.47 607.5V442.0h1.036V607.5zM923.50 607.5V444.3h1.036V607.5zM924.54 607.5V446.1h1.036V607.5zM925.57 607.5V446.7h1.036V607.5zM926.61 607.5V449.2h1.036V607.5zM927.64 607.5V470.8h1.036V607.5zM928.68 607.5V470.3h1.036V607.5zM929.71 607.5V456.0h1.036V607.5zM930.75 607.5V423.0h1.036V607.5zM931.79 607.5V433.1h1.036V607.5zM932.82 607.5V432.4h1.036V607.5zM933.86 607.5V428.6h1.036V607.5zM934.89 607.5V435.5h1.036V607.5zM935.93 607.5V443.6h1.036V607.5zM936.96 607.5V457.1h1.036V607.5zM938.00 607.5V480.4h1.036V607.5zM939.04 607.5V498.3h1.036V607.5zM940.07 607.5V496.9h1.036V607.5zM941.11 607.5V495.0h1.036V607.5zM942.14 607.5V493.6h1.036V607.5zM943.18 607.5V491.9h1.036V607.5zM944.21 607.5V492.5h1.036V607.5zM945.25 607.5V493.0h1.036V607.5zM946.28 607.5V494.6h1.036V607.5zM947.32 607.5V496.5h1.036V607.5zM948.36 607.5V491.6h1.036V607.5zM949.39 607.5V473.8h1.036V607.5zM950.43 607.5V465.1h1.036V607.5zM951.46 607.5V462.7h1.036V607.5zM952.50 607.5V453.9h1.036V607.5zM953.53 607.5V433.7h1.036V607.5zM954.57 607.5V418.5h1.036V607.5zM955.60 607.5V410.8h1.036V607.5zM956.64 607.5V418.8h1.036V607.5zM957.68 607.5V420.4h1.036V607.5zM958.71 607.5V422.2h1.036V607.5zM959.75 607.5V427.2h1.036V607.5zM960.78 607.5V437.5h1.036V607.5zM961.82 607.5V438.6h1.036V607.5zM962.85 607.5V452.4h1.036V607.5zM963.89 607.5V443.1h1.036V607.5zM964.93 607.5V443.2h1.036V607.5zM965.96 607.5V443.6h1.036V607.5zM967.00 607.5V445.5h1.036V607.5zM968.03 607.5V449.7h1.036V607.5zM969.07 607.5V457.3h1.036V607.5zM970.10 607.5V465.3h1.036V607.5zM971.14 607.5V464.2h1.036V607.5zM972.17 607.5V464.9h1.036V607.5zM973.21 607.5V460.7h1.036V607.5zM974.25 607.5V461.8h1.036V607.5zM975.28 607.5V463.0h1.036V607.5zM976.32 607.5V465.3h1.036V607.5zM977.35 607.5V468.8h1.036V607.5zM978.39 607.5V481.0h1.036V607.5zM979.42 607.5V499.3h1.036V607.5zM980.46 607.5V502.5h1.036V607.5zM981.50 607.5V479.0h1.036V607.5zM982.53 607.5V473.6h1.036V607.5zM983.57 607.5V472.5h1.036V607.5zM984.60 607.5V450.8h1.036V607.5zM985.64 607.5V434.8h1.036V607.5zM986.67 607.5V430.7h1.036V607.5zM987.71 607.5V433.9h1.036V607.5zM988.74 607.5V440.5h1.036V607.5zM989.78 607.5V459.9h1.036V607.5zM990.82 607.5V459.0h1.036V607.5zM991.85 607.5V459.0h1.036V607.5zM992.89 607.5V476.6h1.036V607.5zM993.92 607.5V486.4h1.036V607.5zM994.96 607.5V473.2h1.036V607.5zM995.99 607.5V466.9h1.036V607.5zM997.03 607.5V463.3h1.036V607.5zM998.07 607.5V463.3h1.036V607.5zM999.10 607.5V463.4h1.036V607.5zM1000.14 607.5V464.8h1.036V607.5zM1001.17 607.5V466.3h1.036V607.5zM1002.21 607.5V475.0h1.036V607.5zM1003.24 607.5V481.2h1.036V607.5zM1004.28 607.5V490.4h1.036V607.5zM1005.31 607.5V488.3h1.036V607.5zM1006.35 607.5V485.4h1.036V607.5zM1007.39 607.5V483.8h1.036V607.5zM1008.42 607.5V482.3h1.036V607.5zM1009.46 607.5V480.7h1.036V607.5zM1010.49 607.5V483.6h1.036V607.5zM1011.53 607.5V486.9h1.036V607.5zM1012.56 607.5V492.4h1.036V607.5zM1013.60 607.5V491.1h1.036V607.5zM1014.64 607.5V490.8h1.036V607.5zM1015.67 607.5V491.5h1.036V607.5zM1016.71 607.5V493.8h1.036V607.5zM1017.74 607.5V496.6h1.036V607.5zM1018.78 607.5V493.9h1.036V607.5zM1019.81 607.5V491.9h1.036V607.5zM1020.85 607.5V493.6h1.036V607.5zM1021.88 607.5V494.9h1.036V607.5zM1022.92 607.5V494.1h1.036V607.5zM1023.96 607.5V501.0h1.036V607.5zM1024.99 607.5V504.4h1.036V607.5zM1026.03 607.5V506.2h1.036V607.5zM1027.06 607.5V507.3h1.036V607.5zM1028.10 607.5V506.9h1.036V607.5zM1029.13 607.5V506.1h1.036V607.5zM1030.17 607.5V503.5h1.036V607.5zM1031.21 607.5V501.2h1.036V607.5zM1032.24 607.5V499.1h1.036V607.5zM1033.28 607.5V496.1h1.036V607.5zM1034.31 607.5V493.9h1.036V607.5zM1035.35 607.5V488.7h1.036V607.5zM1036.38 607.5V481.9h1.036V607.5zM1037.42 607.5V478.7h1.036V607.5zM1038.45 607.5V469.4h1.036V607.5zM1039.49 607.5V452.6h1.036V607.5zM1040.53 607.5V442.9h1.036V607.5zM1041.56 607.5V439.0h1.036V607.5zM1042.60 607.5V424.1h1.036V607.5zM1043.63 607.5V422.5h1.036V607.5zM1044.67 607.5V420.9h1.036V607.5zM1045.70 607.5V406.0h1.036V607.5zM1046.74 607.5V400.8h1.036V607.5zM1047.78 607.5V399.8h1.036V607.5zM1048.81 607.5V399.6h1.036V607.5zM1049.85 607.5V396.7h1.036V607.5zM1050.88 607.5V395.0h1.036V607.5zM1051.92 607.5V399.1h1.036V607.5zM1052.95 607.5V409.1h1.036V607.5zM1053.99 607.5V409.8h1.036V607.5zM1055.02 607.5V430.4h1.036V607.5zM1056.06 607.5V432.1h1.036V607.5zM1057.10 607.5V433.2h1.036V607.5zM1058.13 607.5V429.9h1.036V607.5zM1059.17 607.5V438.4h1.036V607.5zM1060.20 607.5V441.8h1.036V607.5zM1061.24 607.5V455.6h1.036V607.5zM1062.27 607.5V457.6h1.036V607.5zM1063.31 607.5V460.6h1.036V607.5zM1064.35 607.5V464.5h1.036V607.5zM1065.38 607.5V479.0h1.036V607.5zM1066.42 607.5V464.9h1.036V607.5zM1067.45 607.5V465.0h1.036V607.5zM1068.49 607.5V465.9h1.036V607.5zM1069.52 607.5V478.3h1.036V607.5zM1070.56 607.5V452.8h1.036V607.5zM1071.59 607.5V448.6h1.036V607.5zM1072.63 607.5V448.2h1.036V607.5zM1073.67 607.5V459.9h1.036V607.5zM1074.70 607.5V458.1h1.036V607.5zM1075.74 607.5V456.0h1.036V607.5zM1076.77 607.5V453.0h1.036V607.5zM1077.81 607.5V450.7h1.036V607.5zM1078.84 607.5V472.1h1.036V607.5zM1079.88 607.5V487.1h1.036V607.5zM1080.92 607.5V492.4h1.036V607.5zM1081.95 607.5V482.8h1.036V607.5zM1082.99 607.5V481.5h1.036V607.5zM1084.02 607.5V480.4h1.036V607.5zM1085.06 607.5V469.9h1.036V607.5zM1086.09 607.5V455.1h1.036V607.5zM1087.13 607.5V451.6h1.036V607.5zM1088.16 607.5V431.6h1.036V607.5z" fill="#1d6ef5"/>
<path d="M66.10 607.5V590.2h0.850V607.5zM69.21 607.5V583.1h0.850V607.5zM72.31 607.5V576.9h0.850V607.5zM75.42 607.5V577.8h0.850V607.5zM77.49 607.5V577.7h0.850V607.5zM80.60 607.5V575.6h0.850V607.5zM83.71 607.5V578.0h0.850V607.5zM86.81 607.5V583.2h0.850V607.5zM89.92 607.5V580.6h0.850V607.5zM91.99 607.5V577.2h0.850V607.5zM95.10 607.5V578.2h0.850V607.5zM98.20 607.5V576.6h0.850V607.5zM101.31 607.5V574.0h0.850V607.5zM104.42 607.5V567.2h0.850V607.5zM106.49 607.5V566.2h0.850V607.5zM109.60 607.5V565.7h0.850V607.5zM112.70 607.5V576.5h0.850V607.5zM115.81 607.5V576.5h0.850V607.5zM118.92 607.5V578.7h0.850V607.5zM120.99 607.5V578.2h0.850V607.5zM124.09 607.5V582.2h0.850V607.5zM127.20 607.5V584.7h0.850V607.5zM130.31 607.5V589.0h0.850V607.5zM133.42 607.5V589.7h0.850V607.5zM135.49 607.5V589.4h0.850V607.5zM138.59 607.5V587.6h0.850V607.5zM141.70 607.5V587.5h0.850V607.5zM144.81 607.5V585.9h0.850V607.5zM147.91 607.5V582.3h0.850V607.5zM149.98 607.5V580.8h0.850V607.5zM153.09 607.5V582.0h0.850V607.5zM156.20 607.5V583.7h0.850V607.5zM159.31 607.5V584.7h0.850V607.5zM162.41 607.5V573.9h0.850V607.5zM164.48 607.5V570.3h0.850V607.5zM167.59 607.5V567.7h0.850V607.5zM170.70 607.5V572.9h0.850V607.5zM173.80 607.5V578.5h0.850V607.5zM176.91 607.5V578.9h0.850V607.5zM178.98 607.5V578.2h0.850V607.5zM182.09 607.5V584.5h0.850V607.5zM185.20 607.5V583.5h0.850V607.5zM188.30 607.5V582.9h0.850V607.5zM191.41 607.5V583.8h0.850V607.5zM193.48 607.5V586.9h0.850V607.5zM196.59 607.5V590.1h0.850V607.5zM199.69 607.5V590.9h0.850V607.5zM202.80 607.5V592.5h0.850V607.5zM205.91 607.5V589.7h0.850V607.5zM207.98 607.5V588.5h0.850V607.5zM211.09 607.5V587.2h0.850V607.5zM214.19 607.5V583.3h0.850V607.5zM217.30 607.5V581.5h0.850V607.5zM220.41 607.5V581.4h0.850V607.5zM222.48 607.5V575.8h0.850V607.5zM225.59 607.5V571.5h0.850V607.5zM228.69 607.5V570.3h0.850V607.5zM231.80 607.5V581.5h0.850V607.5zM234.91 607.5V579.3h0.850V607.5zM236.98 607.5V578.8h0.850V607.5zM240.08 607.5V577.1h0.850V607.5zM243.19 607.5V583.8h0.850V607.5zM246.30 607.5V587.5h0.850V607.5zM249.40 607.5V578.5h0.850V607.5zM251.48 607.5V576.3h0.850V607.5zM254.58 607.5V574.2h0.850V607.5zM257.69 607.5V576.3h0.850V607.5zM260.80 607.5V579.6h0.850V607.5zM263.90 607.5V585.5h0.850V607.5zM265.97 607.5V585.5h0.850V607.5zM269.08 607.5V582.0h0.850V607.5zM272.19 607.5V579.1h0.850V607.5zM275.30 607.5V576.6h0.850V607.5zM278.40 607.5V579.6h0.850V607.5zM280.47 607.5V580.9h0.850V607.5zM283.58 607.5V584.8h0.850V607.5zM286.69 607.5V576.8h0.850V607.5zM289.79 607.5V566.3h0.850V607.5zM292.90 607.5V555.7h0.850V607.5zM294.97 607.5V540.7h0.850V607.5zM298.08 607.5V544.0h0.850V607.5zM301.19 607.5V567.4h0.850V607.5zM304.29 607.5V564.0h0.850V607.5zM307.40 607.5V562.8h0.850V607.5zM309.47 607.5V556.5h0.850V607.5zM312.58 607.5V556.8h0.850V607.5zM315.68 607.5V551.2h0.850V607.5zM318.79 607.5V557.2h0.850V607.5zM321.90 607.5V554.4h0.850V607.5zM323.97 607.5V551.5h0.850V607.5zM327.08 607.5V557.6h0.850V607.5zM330.18 607.5V559.7h0.850V607.5zM333.29 607.5V561.0h0.850V607.5zM336.40 607.5V553.5h0.850V607.5zM338.47 607.5V541.9h0.850V607.5zM341.57 607.5V525.8h0.850V607.5zM344.68 607.5V502.5h0.850V607.5zM347.79 607.5V484.6h0.850V607.5zM350.90 607.5V479.5h0.850V607.5zM352.97 607.5V489.8h0.850V607.5zM356.07 607.5V492.3h0.850V607.5zM359.18 607.5V501.5h0.850V607.5zM362.29 607.5V511.2h0.850V607.5zM365.39 607.5V508.1h0.850V607.5zM367.47 607.5V479.4h0.850V607.5zM370.57 607.5V473.0h0.850V607.5zM373.68 607.5V453.4h0.850V607.5zM376.79 607.5V427.9h0.850V607.5zM379.89 607.5V419.4h0.850V607.5zM381.96 607.5V446.6h0.850V607.5zM385.07 607.5V499.6h0.850V607.5zM388.18 607.5V501.2h0.850V607.5zM391.28 607.5V497.6h0.850V607.5zM394.39 607.5V496.6h0.850V607.5zM396.46 607.5V510.5h0.850V607.5zM399.57 607.5V505.8h0.850V607.5zM402.68 607.5V516.5h0.850V607.5zM405.78 607.5V516.4h0.850V607.5zM408.89 607.5V489.3h0.850V607.5zM410.96 607.5V471.4h0.850V607.5zM414.07 607.5V460.4h0.850V607.5zM417.18 607.5V470.5h0.850V607.5zM420.28 607.5V479.5h0.850V607.5zM423.39 607.5V491.6h0.850V607.5zM425.46 607.5V466.6h0.850V607.5zM428.57 607.5V382.2h0.850V607.5zM431.67 607.5V315.5h0.850V607.5zM434.78 607.5V325.6h0.850V607.5zM437.89 607.5V312.9h0.850V607.5zM439.96 607.5V329.3h0.850V607.5zM443.07 607.5V345.3h0.850V607.5zM446.17 607.5V306.3h0.850V607.5zM449.28 607.5V282.3h0.850V607.5zM452.39 607.5V332.9h0.850V607.5zM454.46 607.5V358.5h0.850V607.5zM457.56 607.5V404.1h0.850V607.5zM460.67 607.5V426.6h0.850V607.5zM463.78 607.5V425.3h0.850V607.5zM466.88 607.5V412.6h0.850V607.5zM468.96 607.5V411.5h0.850V607.5zM472.06 607.5V412.1h0.850V607.5zM475.17 607.5V358.9h0.850V607.5zM478.28 607.5V345.9h0.850V607.5zM481.38 607.5V327.6h0.850V607.5zM483.45 607.5V384.7h0.850V607.5zM486.56 607.5V409.5h0.850V607.5zM489.67 607.5V452.0h0.850V607.5zM492.78 607.5V447.6h0.850V607.5zM495.88 607.5V432.8h0.850V607.5zM497.95 607.5V423.5h0.850V607.5zM501.06 607.5V445.0h0.850V607.5zM504.17 607.5V463.0h0.850V607.5zM507.27 607.5V467.5h0.850V607.5zM510.38 607.5V465.8h0.850V607.5zM512.45 607.5V457.1h0.850V607.5zM515.56 607.5V458.1h0.850V607.5zM518.67 607.5V461.4h0.850V607.5zM521.77 607.5V483.7h0.850V607.5zM524.88 607.5V492.3h0.850V607.5zM526.95 607.5V491.2h0.850V607.5zM530.06 607.5V492.7h0.850V607.5zM533.16 607.5V498.2h0.850V607.5zM536.27 607.5V500.9h0.850V607.5zM539.38 607.5V492.1h0.850V607.5zM541.45 607.5V487.2h0.850V607.5zM544.56 607.5V485.7h0.850V607.5zM547.66 607.5V490.0h0.850V607.5zM550.77 607.5V479.5h0.850V607.5zM553.88 607.5V494.6h0.850V607.5zM555.95 607.5V489.0h0.850V607.5zM559.06 607.5V482.4h0.850V607.5zM562.16 607.5V456.0h0.850V607.5zM565.27 607.5V438.7h0.850V607.5zM568.38 607.5V469.0h0.850V607.5zM570.45 607.5V472.5h0.850V607.5zM573.55 607.5V458.3h0.850V607.5zM576.66 607.5V451.7h0.850V607.5zM579.77 607.5V466.4h0.850V607.5zM582.87 607.5V455.8h0.850V607.5zM584.95 607.5V454.9h0.850V607.5zM588.05 607.5V442.8h0.850V607.5zM591.16 607.5V430.8h0.850V607.5zM594.27 607.5V364.8h0.850V607.5zM597.37 607.5V352.0h0.850V607.5zM599.44 607.5V369.2h0.850V607.5zM602.55 607.5V439.7h0.850V607.5zM605.66 607.5V457.4h0.850V607.5zM608.76 607.5V470.0h0.850V607.5zM611.87 607.5V476.8h0.850V607.5zM613.94 607.5V471.8h0.850V607.5zM617.05 607.5V467.4h0.850V607.5zM620.16 607.5V471.8h0.850V607.5zM623.26 607.5V475.7h0.850V607.5zM626.37 607.5V479.0h0.850V607.5zM628.44 607.5V464.7h0.850V607.5zM631.55 607.5V454.7h0.850V607.5zM634.66 607.5V464.4h0.850V607.5zM637.76 607.5V472.4h0.850V607.5zM640.87 607.5V462.5h0.850V607.5zM642.94 607.5V461.4h0.850V607.5zM646.05 607.5V467.8h0.850V607.5zM649.15 607.5V476.9h0.850V607.5zM652.26 607.5V462.9h0.850V607.5zM655.37 607.5V441.5h0.850V607.5zM657.44 607.5V442.6h0.850V607.5zM660.55 607.5V467.5h0.850V607.5zM663.65 607.5V475.9h0.850V607.5zM666.76 607.5V457.4h0.850V607.5zM669.87 607.5V436.6h0.850V607.5zM671.94 607.5V441.4h0.850V607.5zM675.04 607.5V471.8h0.850V607.5zM678.15 607.5V468.1h0.850V607.5zM681.26 607.5V457.6h0.850V607.5zM684.37 607.5V440.0h0.850V607.5zM686.44 607.5V432.9h0.850V607.5zM689.54 607.5V428.6h0.850V607.5zM692.65 607.5V382.7h0.850V607.5zM695.76 607.5V324.1h0.850V607.5zM698.86 607.5V246.5h0.850V607.5zM700.94 607.5V207.2h0.850V607.5zM704.04 607.5V274.6h0.850V607.5zM707.15 607.5V337.4h0.850V607.5zM710.26 607.5V335.8h0.850V607.5zM713.36 607.5V334.6h0.850V607.5zM715.43 607.5V374.4h0.850V607.5zM718.54 607.5V403.1h0.850V607.5zM721.65 607.5V354.6h0.850V607.5zM724.75 607.5V342.6h0.850V607.5zM727.86 607.5V323.1h0.850V607.5zM729.93 607.5V390.8h0.850V607.5zM733.04 607.5V387.7h0.850V607.5zM736.15 607.5V354.0h0.850V607.5zM739.25 607.5V310.4h0.850V607.5zM742.36 607.5V320.5h0.850V607.5zM744.43 607.5V403.6h0.850V607.5zM747.54 607.5V437.0h0.850V607.5zM750.64 607.5V447.2h0.850V607.5zM753.75 607.5V461.8h0.850V607.5zM756.86 607.5V425.6h0.850V607.5zM758.93 607.5V397.8h0.850V607.5zM762.04 607.5V383.7h0.850V607.5zM765.14 607.5V400.4h0.850V607.5zM768.25 607.5V345.7h0.850V607.5zM771.36 607.5V289.7h0.850V607.5zM773.43 607.5V283.3h0.850V607.5zM776.54 607.5V344.0h0.850V607.5zM779.64 607.5V386.7h0.850V607.5zM782.75 607.5V408.1h0.850V607.5zM785.86 607.5V379.7h0.850V607.5zM787.93 607.5V376.9h0.850V607.5zM791.03 607.5V412.7h0.850V607.5zM794.14 607.5V455.6h0.850V607.5zM797.25 607.5V472.6h0.850V607.5zM800.35 607.5V486.8h0.850V607.5zM802.43 607.5V496.8h0.850V607.5zM805.53 607.5V481.8h0.850V607.5zM808.64 607.5V402.7h0.850V607.5zM811.75 607.5V345.1h0.850V607.5zM814.85 607.5V309.8h0.850V607.5zM816.92 607.5V314.0h0.850V607.5zM820.03 607.5V330.9h0.850V607.5zM823.14 607.5V349.0h0.850V607.5zM826.25 607.5V394.6h0.850V607.5zM829.35 607.5V441.1h0.850V607.5zM831.42 607.5V453.1h0.850V607.5zM834.53 607.5V464.5h0.850V607.5zM837.64 607.5V469.5h0.850V607.5zM840.74 607.5V462.3h0.850V607.5zM843.85 607.5V455.5h0.850V607.5zM845.92 607.5V427.1h0.850V607.5zM849.03 607.5V394.3h0.850V607.5zM852.14 607.5V327.1h0.850V607.5zM855.24 607.5V315.6h0.850V607.5zM858.35 607.5V366.6h0.850V607.5zM860.42 607.5V417.9h0.850V607.5zM863.53 607.5V466.9h0.850V607.5zM866.63 607.5V455.2h0.850V607.5zM869.74 607.5V428.4h0.850V607.5zM872.85 607.5V450.8h0.850V607.5zM874.92 607.5V456.2h0.850V607.5zM878.03 607.5V459.5h0.850V607.5zM881.13 607.5V453.7h0.850V607.5zM884.24 607.5V434.1h0.850V607.5zM887.35 607.5V410.7h0.850V607.5zM889.42 607.5V424.3h0.850V607.5zM892.52 607.5V437.3h0.850V607.5zM895.63 607.5V380.8h0.850V607.5zM898.74 607.5V347.8h0.850V607.5zM901.85 607.5V356.1h0.850V607.5zM903.92 607.5V393.8h0.850V607.5zM907.02 607.5V406.0h0.850V607.5zM910.13 607.5V425.2h0.850V607.5zM913.24 607.5V435.0h0.850V607.5zM916.34 607.5V442.4h0.850V607.5zM918.42 607.5V433.2h0.850V607.5zM921.52 607.5V440.9h0.850V607.5zM924.63 607.5V446.4h0.850V607.5zM927.74 607.5V471.1h0.850V607.5zM930.84 607.5V423.3h0.850V607.5zM932.91 607.5V432.7h0.850V607.5zM936.02 607.5V443.9h0.850V607.5zM939.13 607.5V498.6h0.850V607.5zM942.23 607.5V493.9h0.850V607.5zM945.34 607.5V493.3h0.850V607.5zM947.41 607.5V496.8h0.850V607.5zM950.52 607.5V465.4h0.850V607.5zM953.63 607.5V434.0h0.850V607.5zM956.73 607.5V419.1h0.850V607.5zM959.84 607.5V427.5h0.850V607.5zM961.91 607.5V438.9h0.850V607.5zM965.02 607.5V443.5h0.850V607.5zM968.13 607.5V450.0h0.850V607.5zM971.23 607.5V464.5h0.850V607.5zM974.34 607.5V462.1h0.850V607.5zM976.41 607.5V465.6h0.850V607.5zM979.52 607.5V499.6h0.850V607.5zM982.62 607.5V473.9h0.850V607.5zM985.73 607.5V435.1h0.850V607.5zM988.84 607.5V440.8h0.850V607.5zM990.91 607.5V459.3h0.850V607.5zM994.02 607.5V486.7h0.850V607.5zM997.12 607.5V463.6h0.850V607.5zM1000.23 607.5V465.1h0.850V607.5zM1003.34 607.5V481.5h0.850V607.5zM1005.41 607.5V488.6h0.850V607.5zM1008.51 607.5V482.6h0.850V607.5zM1011.62 607.5V487.2h0.850V607.5zM1014.73 607.5V491.1h0.850V607.5zM1017.83 607.5V496.9h0.850V607.5zM1019.91 607.5V492.2h0.850V607.5zM1023.01 607.5V494.4h0.850V607.5zM1026.12 607.5V506.5h0.850V607.5zM1029.23 607.5V506.4h0.850V607.5zM1032.33 607.5V499.4h0.850V607.5zM1034.40 607.5V494.2h0.850V607.5zM1037.51 607.5V479.0h0.850V607.5zM1040.62 607.5V443.2h0.850V607.5zM1043.73 607.5V422.8h0.850V607.5zM1046.83 607.5V401.1h0.850V607.5zM1048.90 607.5V399.9h0.850V607.5zM1052.01 607.5V399.4h0.850V607.5zM1055.12 607.5V430.7h0.850V607.5zM1058.22 607.5V430.2h0.850V607.5zM1061.33 607.5V455.9h0.850V607.5zM1063.40 607.5V460.9h0.850V607.5zM1066.51 607.5V465.2h0.850V607.5zM1069.62 607.5V478.6h0.850V607.5zM1072.72 607.5V448.5h0.850V607.5zM1075.83 607.5V456.3h0.850V607.5zM1077.90 607.5V451.0h0.850V607.5zM1081.01 607.5V492.7h0.850V607.5zM1084.11 607.5V480.7h0.850V607.5zM1087.22 607.5V451.9h0.850V607.5z" fill="#fff" fill-opacity=".09"/>
<path d="M62.99 607.5V596.9h0.850V607.5zM86.81 607.5V583.2h0.850V607.5zM101.31 607.5V574.0h0.850V607.5zM110.63 607.5V565.4h0.850V607.5zM134.45 607.5V590.0h0.850V607.5zM139.63 607.5V587.6h0.850V607.5zM158.27 607.5V584.0h0.850V607.5zM177.95 607.5V578.5h0.850V607.5zM182.09 607.5V584.5h0.850V607.5zM205.91 607.5V589.7h0.850V607.5zM216.26 607.5V581.6h0.850V607.5zM229.73 607.5V575.2h0.850V607.5zM253.55 607.5V574.9h0.850V607.5zM254.58 607.5V574.2h0.850V607.5zM277.37 607.5V578.5h0.850V607.5zM292.90 607.5V555.7h0.850V607.5zM301.19 607.5V567.4h0.850V607.5zM325.00 607.5V557.8h0.850V607.5zM331.22 607.5V563.5h0.850V607.5zM348.82 607.5V482.8h0.850V607.5zM369.54 607.5V475.1h0.850V607.5zM372.64 607.5V457.9h0.850V607.5zM396.46 607.5V510.5h0.850V607.5zM407.85 607.5V498.5h0.850V607.5zM420.28 607.5V479.5h0.850V607.5zM444.10 607.5V319.6h0.850V607.5zM446.17 607.5V306.3h0.850V607.5zM467.92 607.5V411.9h0.850V607.5zM484.49 607.5V393.4h0.850V607.5zM491.74 607.5V455.1h0.850V607.5zM515.56 607.5V458.1h0.850V607.5zM522.81 607.5V487.3h0.850V607.5zM539.38 607.5V492.1h0.850V607.5zM561.13 607.5V463.2h0.850V607.5zM563.20 607.5V447.8h0.850V607.5zM587.02 607.5V444.8h0.850V607.5zM599.44 607.5V369.2h0.850V607.5zM610.84 607.5V474.7h0.850V607.5zM634.66 607.5V464.4h0.850V607.5zM637.76 607.5V472.4h0.850V607.5zM658.47 607.5V442.4h0.850V607.5zM676.08 607.5V471.5h0.850V607.5zM682.29 607.5V451.2h0.850V607.5zM706.11 607.5V335.1h0.850V607.5zM714.40 607.5V357.5h0.850V607.5zM729.93 607.5V390.8h0.850V607.5zM752.72 607.5V459.5h0.850V607.5zM753.75 607.5V461.8h0.850V607.5zM777.57 607.5V372.2h0.850V607.5zM791.03 607.5V412.7h0.850V607.5zM801.39 607.5V493.0h0.850V607.5zM825.21 607.5V391.3h0.850V607.5zM829.35 607.5V441.1h0.850V607.5zM849.03 607.5V394.3h0.850V607.5zM867.67 607.5V442.5h0.850V607.5zM872.85 607.5V450.8h0.850V607.5zM896.67 607.5V376.2h0.850V607.5zM905.99 607.5V398.4h0.850V607.5zM920.49 607.5V439.8h0.850V607.5zM944.31 607.5V492.8h0.850V607.5zM968.13 607.5V450.0h0.850V607.5zM982.62 607.5V473.9h0.850V607.5zM991.94 607.5V459.3h0.850V607.5zM1015.76 607.5V491.8h0.850V607.5zM1020.94 607.5V493.9h0.850V607.5zM1039.58 607.5V452.9h0.850V607.5zM1059.26 607.5V438.7h0.850V607.5zM1063.40 607.5V460.9h0.850V607.5zM1087.22 607.5V451.9h0.850V607.5z" fill="#fff" fill-opacity=".16"/>
<path d="M62.90 607.5V603.1h1.036V607.5zM63.94 607.5V603.2h1.036V607.5zM64.97 607.5V603.3h1.036V607.5zM66.01 607.5V603.4h1.036V607.5zM67.04 607.5V603.6h1.036V607.5zM68.08 607.5V603.7h1.036V607.5zM69.11 607.5V603.8h1.036V607.5zM70.15 607.5V603.9h1.036V607.5zM71.18 607.5V604.0h1.036V607.5zM72.22 607.5V604.2h1.036V607.5zM73.26 607.5V604.1h1.036V607.5zM74.29 607.5V604.0h1.036V607.5zM75.33 607.5V603.9h1.036V607.5zM76.36 607.5V603.7h1.036V607.5zM77.40 607.5V603.6h1.036V607.5zM78.43 607.5V603.4h1.036V607.5zM79.47 607.5V603.3h1.036V607.5zM80.51 607.5V603.2h1.036V607.5zM81.54 607.5V603.7h1.036V607.5zM82.58 607.5V604.3h1.036V607.5zM83.61 607.5V604.9h1.036V607.5zM84.65 607.5V605.5h1.036V607.5zM85.68 607.5V606.1h1.036V607.5zM86.72 607.5V606.2h1.036V607.5zM87.75 607.5V606.1h1.036V607.5zM88.79 607.5V606.1h1.036V607.5zM89.83 607.5V606.1h1.036V607.5zM90.86 607.5V606.1h1.036V607.5zM91.90 607.5V606.0h1.036V607.5zM92.93 607.5V606.0h1.036V607.5zM93.97 607.5V606.0h1.036V607.5zM95.00 607.5V606.0h1.036V607.5zM96.04 607.5V605.9h1.036V607.5zM97.08 607.5V605.9h1.036V607.5zM98.11 607.5V605.9h1.036V607.5zM99.15 607.5V605.9h1.036V607.5zM100.18 607.5V605.9h1.036V607.5zM101.22 607.5V605.8h1.036V607.5zM102.25 607.5V605.8h1.036V607.5zM103.29 607.5V605.3h1.036V607.5zM104.32 607.5V604.1h1.036V607.5zM105.36 607.5V602.8h1.036V607.5zM106.40 607.5V602.6h1.036V607.5zM107.43 607.5V602.6h1.036V607.5zM108.47 607.5V602.6h1.036V607.5zM109.50 607.5V602.6h1.036V607.5zM110.54 607.5V602.6h1.036V607.5zM111.57 607.5V603.6h1.036V607.5zM112.61 607.5V604.8h1.036V607.5zM113.65 607.5V605.8h1.036V607.5zM114.68 607.5V605.8h1.036V607.5zM115.72 607.5V605.8h1.036V607.5zM116.75 607.5V605.9h1.036V607.5zM117.79 607.5V605.9h1.036V607.5zM118.82 607.5V605.9h1.036V607.5zM119.86 607.5V605.9h1.036V607.5zM120.89 607.5V605.9h1.036V607.5zM121.93 607.5V606.0h1.036V607.5zM122.97 607.5V606.0h1.036V607.5zM124.00 607.5V606.0h1.036V607.5zM125.04 607.5V606.0h1.036V607.5zM126.07 607.5V606.1h1.036V607.5zM127.11 607.5V606.1h1.036V607.5zM128.14 607.5V606.1h1.036V607.5zM129.18 607.5V606.1h1.036V607.5zM130.22 607.5V606.1h1.036V607.5zM131.25 607.5V606.2h1.036V607.5zM132.29 607.5V605.9h1.036V607.5zM133.32 607.5V605.1h1.036V607.5zM134.36 607.5V604.3h1.036V607.5zM135.39 607.5V604.2h1.036V607.5zM136.43 607.5V604.2h1.036V607.5zM137.46 607.5V604.2h1.036V607.5zM138.50 607.5V604.2h1.036V607.5zM139.54 607.5V604.2h1.036V607.5zM140.57 607.5V604.8h1.036V607.5zM141.61 607.5V605.6h1.036V607.5zM142.64 607.5V606.2h1.036V607.5zM143.68 607.5V606.2h1.036V607.5zM144.71 607.5V606.2h1.036V607.5zM145.75 607.5V606.2h1.036V607.5zM146.79 607.5V606.2h1.036V607.5zM147.82 607.5V606.2h1.036V607.5zM148.86 607.5V606.2h1.036V607.5zM149.89 607.5V606.2h1.036V607.5zM150.93 607.5V606.2h1.036V607.5zM151.96 607.5V606.2h1.036V607.5zM153.00 607.5V606.2h1.036V607.5zM154.03 607.5V606.2h1.036V607.5zM155.07 607.5V606.2h1.036V607.5zM156.11 607.5V606.0h1.036V607.5zM157.14 607.5V605.5h1.036V607.5zM158.18 607.5V605.1h1.036V607.5zM159.21 607.5V604.7h1.036V607.5zM160.25 607.5V604.3h1.036V607.5zM161.28 607.5V603.9h1.036V607.5zM162.32 607.5V603.5h1.036V607.5zM163.36 607.5V603.1h1.036V607.5zM164.39 607.5V602.8h1.036V607.5zM165.43 607.5V602.5h1.036V607.5zM166.46 607.5V602.1h1.036V607.5zM167.50 607.5V601.8h1.036V607.5zM168.53 607.5V601.8h1.036V607.5zM169.57 607.5V601.8h1.036V607.5zM170.60 607.5V601.8h1.036V607.5zM171.64 607.5V601.8h1.036V607.5zM172.68 607.5V601.8h1.036V607.5zM173.71 607.5V601.8h1.036V607.5zM174.75 607.5V601.8h1.036V607.5zM175.78 607.5V601.8h1.036V607.5zM176.82 607.5V602.1h1.036V607.5zM177.85 607.5V603.3h1.036V607.5zM178.89 607.5V604.5h1.036V607.5zM179.93 607.5V604.9h1.036V607.5zM180.96 607.5V604.9h1.036V607.5zM182.00 607.5V604.9h1.036V607.5zM183.03 607.5V604.9h1.036V607.5zM184.07 607.5V604.9h1.036V607.5zM185.10 607.5V604.9h1.036V607.5zM186.14 607.5V604.9h1.036V607.5zM187.17 607.5V604.9h1.036V607.5zM188.21 607.5V604.9h1.036V607.5zM189.25 607.5V604.9h1.036V607.5zM190.28 607.5V604.9h1.036V607.5zM191.32 607.5V604.9h1.036V607.5zM192.35 607.5V605.0h1.036V607.5zM193.39 607.5V605.2h1.036V607.5zM194.42 607.5V605.3h1.036V607.5zM195.46 607.5V605.4h1.036V607.5zM196.50 607.5V605.4h1.036V607.5zM197.53 607.5V604.8h1.036V607.5zM198.57 607.5V604.2h1.036V607.5zM199.60 607.5V603.6h1.036V607.5zM200.64 607.5V603.2h1.036V607.5zM201.67 607.5V603.2h1.036V607.5zM202.71 607.5V603.3h1.036V607.5zM203.74 607.5V603.4h1.036V607.5zM204.78 607.5V603.4h1.036V607.5zM205.82 607.5V603.5h1.036V607.5zM206.85 607.5V604.9h1.036V607.5zM207.89 607.5V605.3h1.036V607.5zM208.92 607.5V605.6h1.036V607.5zM209.96 607.5V605.9h1.036V607.5zM210.99 607.5V606.2h1.036V607.5zM212.03 607.5V606.2h1.036V607.5zM213.06 607.5V606.2h1.036V607.5zM214.10 607.5V606.2h1.036V607.5zM215.14 607.5V606.2h1.036V607.5zM216.17 607.5V606.2h1.036V607.5zM217.21 607.5V606.2h1.036V607.5zM218.24 607.5V606.2h1.036V607.5zM219.28 607.5V606.2h1.036V607.5zM220.31 607.5V606.2h1.036V607.5zM221.35 607.5V606.2h1.036V607.5zM222.39 607.5V606.2h1.036V607.5zM223.42 607.5V606.2h1.036V607.5zM224.46 607.5V606.0h1.036V607.5zM225.49 607.5V605.5h1.036V607.5zM226.53 607.5V604.9h1.036V607.5zM227.56 607.5V604.3h1.036V607.5zM228.60 607.5V603.6h1.036V607.5zM229.63 607.5V603.8h1.036V607.5zM230.67 607.5V604.1h1.036V607.5zM231.71 607.5V604.4h1.036V607.5zM232.74 607.5V604.7h1.036V607.5zM233.78 607.5V604.9h1.036V607.5zM234.81 607.5V605.0h1.036V607.5zM235.85 607.5V605.2h1.036V607.5zM236.88 607.5V605.3h1.036V607.5zM237.92 607.5V605.4h1.036V607.5zM238.96 607.5V605.6h1.036V607.5zM239.99 607.5V605.7h1.036V607.5zM241.03 607.5V605.8h1.036V607.5zM242.06 607.5V605.9h1.036V607.5zM243.10 607.5V606.1h1.036V607.5zM244.13 607.5V606.2h1.036V607.5zM245.17 607.5V606.2h1.036V607.5zM246.20 607.5V606.2h1.036V607.5zM247.24 607.5V606.2h1.036V607.5zM248.28 607.5V606.2h1.036V607.5zM249.31 607.5V606.2h1.036V607.5zM250.35 607.5V606.2h1.036V607.5zM251.38 607.5V606.2h1.036V607.5zM252.42 607.5V606.2h1.036V607.5zM253.45 607.5V606.2h1.036V607.5zM254.49 607.5V606.2h1.036V607.5zM255.53 607.5V606.2h1.036V607.5zM256.56 607.5V606.2h1.036V607.5zM257.60 607.5V606.2h1.036V607.5zM258.63 607.5V606.2h1.036V607.5zM259.67 607.5V606.2h1.036V607.5zM260.70 607.5V606.2h1.036V607.5zM261.74 607.5V606.2h1.036V607.5zM262.77 607.5V606.2h1.036V607.5zM263.81 607.5V606.2h1.036V607.5zM264.85 607.5V606.2h1.036V607.5zM265.88 607.5V605.3h1.036V607.5zM266.92 607.5V604.3h1.036V607.5zM267.95 607.5V603.6h1.036V607.5zM268.99 607.5V603.6h1.036V607.5zM270.02 607.5V603.6h1.036V607.5zM271.06 607.5V603.6h1.036V607.5zM272.10 607.5V603.6h1.036V607.5zM273.13 607.5V603.6h1.036V607.5zM274.17 607.5V603.6h1.036V607.5zM275.20 607.5V604.2h1.036V607.5zM276.24 607.5V604.9h1.036V607.5zM277.27 607.5V605.6h1.036V607.5zM278.31 607.5V606.2h1.036V607.5zM279.34 607.5V606.1h1.036V607.5zM280.38 607.5V606.0h1.036V607.5zM281.42 607.5V605.9h1.036V607.5zM282.45 607.5V605.8h1.036V607.5zM283.49 607.5V605.7h1.036V607.5zM284.52 607.5V605.7h1.036V607.5zM285.56 607.5V605.6h1.036V607.5zM286.59 607.5V605.3h1.036V607.5zM287.63 607.5V605.0h1.036V607.5zM288.67 607.5V604.7h1.036V607.5zM289.70 607.5V604.3h1.036V607.5zM290.74 607.5V604.0h1.036V607.5zM291.77 607.5V603.6h1.036V607.5zM292.81 607.5V603.3h1.036V607.5zM293.84 607.5V602.9h1.036V607.5zM294.88 607.5V599.9h1.036V607.5zM295.91 607.5V598.7h1.036V607.5zM296.95 607.5V598.7h1.036V607.5zM297.99 607.5V598.7h1.036V607.5zM299.02 607.5V598.7h1.036V607.5zM300.06 607.5V598.7h1.036V607.5zM301.09 607.5V600.1h1.036V607.5zM302.13 607.5V602.6h1.036V607.5zM303.16 607.5V603.5h1.036V607.5zM304.20 607.5V603.4h1.036V607.5zM305.24 607.5V603.4h1.036V607.5zM306.27 607.5V603.3h1.036V607.5zM307.31 607.5V603.2h1.036V607.5zM308.34 607.5V603.2h1.036V607.5zM309.38 607.5V603.1h1.036V607.5zM310.41 607.5V603.0h1.036V607.5zM311.45 607.5V603.0h1.036V607.5zM312.48 607.5V602.9h1.036V607.5zM313.52 607.5V602.7h1.036V607.5zM314.56 607.5V602.6h1.036V607.5zM315.59 607.5V602.5h1.036V607.5zM316.63 607.5V602.3h1.036V607.5zM317.66 607.5V602.2h1.036V607.5zM318.70 607.5V602.1h1.036V607.5zM319.73 607.5V601.9h1.036V607.5zM320.77 607.5V601.4h1.036V607.5zM321.81 607.5V600.6h1.036V607.5zM322.84 607.5V599.8h1.036V607.5zM323.88 607.5V598.7h1.036V607.5zM324.91 607.5V598.9h1.036V607.5zM325.95 607.5V599.3h1.036V607.5zM326.98 607.5V599.7h1.036V607.5zM328.02 607.5V600.6h1.036V607.5zM329.05 607.5V601.4h1.036V607.5zM330.09 607.5V602.3h1.036V607.5zM331.13 607.5V602.9h1.036V607.5zM332.16 607.5V602.9h1.036V607.5zM333.20 607.5V602.9h1.036V607.5zM334.23 607.5V602.9h1.036V607.5zM335.27 607.5V602.9h1.036V607.5zM336.30 607.5V602.9h1.036V607.5zM337.34 607.5V602.9h1.036V607.5zM338.38 607.5V602.9h1.036V607.5zM339.41 607.5V602.9h1.036V607.5zM340.45 607.5V602.9h1.036V607.5zM341.48 607.5V602.9h1.036V607.5zM342.52 607.5V602.9h1.036V607.5zM343.55 607.5V602.9h1.036V607.5zM344.59 607.5V602.8h1.036V607.5zM345.62 607.5V602.8h1.036V607.5zM346.66 607.5V602.7h1.036V607.5zM347.70 607.5V602.6h1.036V607.5zM348.73 607.5V602.6h1.036V607.5zM349.77 607.5V602.5h1.036V607.5zM350.80 607.5V602.5h1.036V607.5zM351.84 607.5V602.3h1.036V607.5zM352.87 607.5V602.1h1.036V607.5zM353.91 607.5V601.6h1.036V607.5zM354.95 607.5V601.4h1.036V607.5zM355.98 607.5V601.3h1.036V607.5zM357.02 607.5V601.2h1.036V607.5zM358.05 607.5V601.1h1.036V607.5zM359.09 607.5V600.9h1.036V607.5zM360.12 607.5V600.8h1.036V607.5zM361.16 607.5V600.7h1.036V607.5zM362.19 607.5V600.6h1.036V607.5zM363.23 607.5V600.5h1.036V607.5zM364.27 607.5V600.4h1.036V607.5zM365.30 607.5V600.3h1.036V607.5zM366.34 607.5V600.2h1.036V607.5zM367.37 607.5V600.1h1.036V607.5zM368.41 607.5V600.0h1.036V607.5zM369.44 607.5V599.9h1.036V607.5zM370.48 607.5V599.8h1.036V607.5zM371.51 607.5V599.6h1.036V607.5zM372.55 607.5V599.4h1.036V607.5zM373.59 607.5V599.1h1.036V607.5zM374.62 607.5V598.4h1.036V607.5zM375.66 607.5V596.7h1.036V607.5zM376.69 607.5V595.0h1.036V607.5zM377.73 607.5V594.5h1.036V607.5zM378.76 607.5V594.1h1.036V607.5zM379.80 607.5V594.0h1.036V607.5zM380.84 607.5V595.1h1.036V607.5zM381.87 607.5V595.9h1.036V607.5zM382.91 607.5V597.3h1.036V607.5zM383.94 607.5V600.4h1.036V607.5zM384.98 607.5V601.4h1.036V607.5zM386.01 607.5V601.4h1.036V607.5zM387.05 607.5V601.2h1.036V607.5zM388.08 607.5V600.3h1.036V607.5zM389.12 607.5V599.4h1.036V607.5zM390.16 607.5V599.5h1.036V607.5zM391.19 607.5V599.6h1.036V607.5zM392.23 607.5V599.7h1.036V607.5zM393.26 607.5V600.3h1.036V607.5zM394.30 607.5V601.1h1.036V607.5zM395.33 607.5V601.8h1.036V607.5zM396.37 607.5V602.7h1.036V607.5zM397.41 607.5V603.6h1.036V607.5zM398.44 607.5V604.4h1.036V607.5zM399.48 607.5V605.0h1.036V607.5zM400.51 607.5V604.9h1.036V607.5zM401.55 607.5V604.7h1.036V607.5zM402.58 607.5V604.6h1.036V607.5zM403.62 607.5V604.5h1.036V607.5zM404.65 607.5V604.2h1.036V607.5zM405.69 607.5V603.9h1.036V607.5zM406.73 607.5V603.6h1.036V607.5zM407.76 607.5V603.2h1.036V607.5zM408.80 607.5V602.5h1.036V607.5zM409.83 607.5V601.7h1.036V607.5zM410.87 607.5V601.0h1.036V607.5zM411.90 607.5V600.7h1.036V607.5zM412.94 607.5V600.4h1.036V607.5zM413.98 607.5V600.0h1.036V607.5zM415.01 607.5V599.7h1.036V607.5zM416.05 607.5V599.3h1.036V607.5zM417.08 607.5V598.8h1.036V607.5zM418.12 607.5V598.4h1.036V607.5zM419.15 607.5V597.9h1.036V607.5zM420.19 607.5V597.5h1.036V607.5zM421.22 607.5V597.1h1.036V607.5zM422.26 607.5V596.8h1.036V607.5zM423.30 607.5V596.4h1.036V607.5zM424.33 607.5V596.1h1.036V607.5zM425.37 607.5V595.7h1.036V607.5zM426.40 607.5V595.1h1.036V607.5zM427.44 607.5V594.3h1.036V607.5zM428.47 607.5V593.5h1.036V607.5zM429.51 607.5V592.7h1.036V607.5zM430.55 607.5V592.0h1.036V607.5zM431.58 607.5V591.2h1.036V607.5zM432.62 607.5V590.0h1.036V607.5zM433.65 607.5V587.3h1.036V607.5zM434.69 607.5V588.4h1.036V607.5zM435.72 607.5V589.8h1.036V607.5zM436.76 607.5V590.0h1.036V607.5zM437.79 607.5V590.3h1.036V607.5zM438.83 607.5V590.5h1.036V607.5zM439.87 607.5V590.7h1.036V607.5zM440.90 607.5V591.4h1.036V607.5zM441.94 607.5V592.1h1.036V607.5zM442.97 607.5V591.6h1.036V607.5zM444.01 607.5V590.5h1.036V607.5zM445.04 607.5V589.8h1.036V607.5zM446.08 607.5V590.7h1.036V607.5zM447.12 607.5V591.4h1.036V607.5zM448.15 607.5V591.2h1.036V607.5zM449.19 607.5V591.0h1.036V607.5zM450.22 607.5V590.7h1.036V607.5zM451.26 607.5V590.5h1.036V607.5zM452.29 607.5V590.2h1.036V607.5zM453.33 607.5V589.9h1.036V607.5zM454.36 607.5V589.0h1.036V607.5zM455.40 607.5V587.5h1.036V607.5zM456.44 607.5V586.2h1.036V607.5zM457.47 607.5V587.5h1.036V607.5zM458.51 607.5V588.6h1.036V607.5zM459.54 607.5V589.7h1.036V607.5zM460.58 607.5V590.8h1.036V607.5zM461.61 607.5V592.2h1.036V607.5zM462.65 607.5V594.6h1.036V607.5zM463.69 607.5V597.1h1.036V607.5zM464.72 607.5V598.2h1.036V607.5zM465.76 607.5V598.7h1.036V607.5zM466.79 607.5V598.0h1.036V607.5zM467.83 607.5V597.4h1.036V607.5zM468.86 607.5V596.7h1.036V607.5zM469.90 607.5V596.3h1.036V607.5zM470.93 607.5V595.9h1.036V607.5zM471.97 607.5V595.5h1.036V607.5zM473.01 607.5V595.1h1.036V607.5zM474.04 607.5V594.6h1.036V607.5zM475.08 607.5V594.1h1.036V607.5zM476.11 607.5V593.6h1.036V607.5zM477.15 607.5V593.1h1.036V607.5zM478.18 607.5V592.8h1.036V607.5zM479.22 607.5V592.6h1.036V607.5zM480.26 607.5V592.3h1.036V607.5zM481.29 607.5V592.5h1.036V607.5zM482.33 607.5V592.8h1.036V607.5zM483.36 607.5V593.1h1.036V607.5zM484.40 607.5V593.1h1.036V607.5zM485.43 607.5V593.0h1.036V607.5zM486.47 607.5V592.8h1.036V607.5zM487.50 607.5V593.3h1.036V607.5zM488.54 607.5V594.3h1.036V607.5zM489.58 607.5V595.2h1.036V607.5zM490.61 607.5V595.7h1.036V607.5zM491.65 607.5V596.3h1.036V607.5zM492.68 607.5V596.8h1.036V607.5zM493.72 607.5V597.3h1.036V607.5zM494.75 607.5V597.6h1.036V607.5zM495.79 607.5V597.9h1.036V607.5zM496.83 607.5V598.2h1.036V607.5zM497.86 607.5V598.5h1.036V607.5zM498.90 607.5V598.7h1.036V607.5zM499.93 607.5V598.9h1.036V607.5zM500.97 607.5V600.4h1.036V607.5zM502.00 607.5V602.2h1.036V607.5zM503.04 607.5V602.2h1.036V607.5zM504.07 607.5V602.2h1.036V607.5zM505.11 607.5V602.2h1.036V607.5zM506.15 607.5V602.1h1.036V607.5zM507.18 607.5V600.9h1.036V607.5zM508.22 607.5V599.7h1.036V607.5zM509.25 607.5V599.3h1.036V607.5zM510.29 607.5V599.1h1.036V607.5zM511.32 607.5V598.9h1.036V607.5zM512.36 607.5V598.7h1.036V607.5zM513.39 607.5V598.4h1.036V607.5zM514.43 607.5V597.9h1.036V607.5zM515.47 607.5V597.2h1.036V607.5zM516.50 607.5V596.6h1.036V607.5zM517.54 607.5V596.4h1.036V607.5zM518.57 607.5V596.4h1.036V607.5zM519.61 607.5V596.4h1.036V607.5zM520.64 607.5V596.4h1.036V607.5zM521.68 607.5V596.4h1.036V607.5zM522.72 607.5V596.1h1.036V607.5zM523.75 607.5V595.8h1.036V607.5zM524.79 607.5V595.4h1.036V607.5zM525.82 607.5V595.1h1.036V607.5zM526.86 607.5V594.8h1.036V607.5zM527.89 607.5V595.7h1.036V607.5zM528.93 607.5V596.4h1.036V607.5zM529.96 607.5V597.2h1.036V607.5zM531.00 607.5V597.9h1.036V607.5zM532.04 607.5V598.6h1.036V607.5zM533.07 607.5V599.2h1.036V607.5zM534.11 607.5V599.3h1.036V607.5zM535.14 607.5V599.2h1.036V607.5zM536.18 607.5V599.0h1.036V607.5zM537.21 607.5V598.6h1.036V607.5zM538.25 607.5V597.9h1.036V607.5zM539.29 607.5V597.3h1.036V607.5zM540.32 607.5V598.4h1.036V607.5zM541.36 607.5V598.2h1.036V607.5zM542.39 607.5V598.0h1.036V607.5zM543.43 607.5V597.8h1.036V607.5zM544.46 607.5V598.7h1.036V607.5zM545.50 607.5V599.9h1.036V607.5zM546.53 607.5V600.4h1.036V607.5zM547.57 607.5V599.9h1.036V607.5zM548.61 607.5V599.3h1.036V607.5zM549.64 607.5V598.6h1.036V607.5zM550.68 607.5V596.8h1.036V607.5zM551.71 607.5V594.8h1.036V607.5zM552.75 607.5V594.9h1.036V607.5zM553.78 607.5V594.9h1.036V607.5zM554.82 607.5V595.0h1.036V607.5zM555.86 607.5V595.1h1.036V607.5zM556.89 607.5V596.7h1.036V607.5zM557.93 607.5V598.6h1.036V607.5zM558.96 607.5V600.0h1.036V607.5zM560.00 607.5V600.7h1.036V607.5zM561.03 607.5V601.4h1.036V607.5zM562.07 607.5V600.9h1.036V607.5zM563.10 607.5V600.4h1.036V607.5zM564.14 607.5V599.8h1.036V607.5zM565.18 607.5V599.8h1.036V607.5zM566.21 607.5V599.8h1.036V607.5zM567.25 607.5V599.8h1.036V607.5zM568.28 607.5V599.8h1.036V607.5zM569.32 607.5V599.8h1.036V607.5zM570.35 607.5V599.8h1.036V607.5zM571.39 607.5V599.8h1.036V607.5zM572.43 607.5V599.8h1.036V607.5zM573.46 607.5V598.6h1.036V607.5zM574.50 607.5V597.1h1.036V607.5zM575.53 607.5V595.7h1.036V607.5zM576.57 607.5V594.8h1.036V607.5zM577.60 607.5V594.3h1.036V607.5zM578.64 607.5V593.8h1.036V607.5zM579.67 607.5V593.3h1.036V607.5zM580.71 607.5V592.0h1.036V607.5zM581.75 607.5V590.1h1.036V607.5zM582.78 607.5V591.4h1.036V607.5zM583.82 607.5V592.7h1.036V607.5zM584.85 607.5V593.4h1.036V607.5zM585.89 607.5V593.8h1.036V607.5zM586.92 607.5V594.2h1.036V607.5zM587.96 607.5V594.6h1.036V607.5zM589.00 607.5V594.9h1.036V607.5zM590.03 607.5V595.2h1.036V607.5zM591.07 607.5V595.5h1.036V607.5zM592.10 607.5V595.3h1.036V607.5zM593.14 607.5V594.6h1.036V607.5zM594.17 607.5V594.0h1.036V607.5zM595.21 607.5V594.3h1.036V607.5zM596.24 607.5V594.7h1.036V607.5zM597.28 607.5V595.1h1.036V607.5zM598.32 607.5V595.3h1.036V607.5zM599.35 607.5V595.5h1.036V607.5zM600.39 607.5V596.7h1.036V607.5zM601.42 607.5V599.3h1.036V607.5zM602.46 607.5V599.8h1.036V607.5zM603.49 607.5V599.9h1.036V607.5zM604.53 607.5V600.0h1.036V607.5zM605.57 607.5V600.1h1.036V607.5zM606.60 607.5V600.0h1.036V607.5zM607.64 607.5V600.0h1.036V607.5zM608.67 607.5V599.9h1.036V607.5zM609.71 607.5V599.8h1.036V607.5zM610.74 607.5V599.7h1.036V607.5zM611.78 607.5V598.3h1.036V607.5zM612.81 607.5V596.9h1.036V607.5zM613.85 607.5V596.0h1.036V607.5zM614.89 607.5V595.2h1.036V607.5zM615.92 607.5V594.4h1.036V607.5zM616.96 607.5V593.5h1.036V607.5zM617.99 607.5V592.5h1.036V607.5zM619.03 607.5V591.1h1.036V607.5zM620.06 607.5V592.3h1.036V607.5zM621.10 607.5V593.9h1.036V607.5zM622.14 607.5V595.6h1.036V607.5zM623.17 607.5V597.5h1.036V607.5zM624.21 607.5V599.0h1.036V607.5zM625.24 607.5V599.4h1.036V607.5zM626.28 607.5V599.7h1.036V607.5zM627.31 607.5V600.1h1.036V607.5zM628.35 607.5V599.5h1.036V607.5zM629.38 607.5V599.0h1.036V607.5zM630.42 607.5V598.4h1.036V607.5zM631.46 607.5V598.6h1.036V607.5zM632.49 607.5V598.8h1.036V607.5zM633.53 607.5V599.0h1.036V607.5zM634.56 607.5V599.2h1.036V607.5zM635.60 607.5V599.4h1.036V607.5zM636.63 607.5V599.3h1.036V607.5zM637.67 607.5V599.1h1.036V607.5zM638.71 607.5V599.0h1.036V607.5zM639.74 607.5V598.4h1.036V607.5zM640.78 607.5V597.7h1.036V607.5zM641.81 607.5V597.0h1.036V607.5zM642.85 607.5V596.4h1.036V607.5zM643.88 607.5V595.9h1.036V607.5zM644.92 607.5V595.4h1.036V607.5zM645.95 607.5V594.8h1.036V607.5zM646.99 607.5V594.1h1.036V607.5zM648.03 607.5V593.5h1.036V607.5zM649.06 607.5V593.9h1.036V607.5zM650.10 607.5V594.3h1.036V607.5zM651.13 607.5V594.5h1.036V607.5zM652.17 607.5V594.6h1.036V607.5zM653.20 607.5V594.7h1.036V607.5zM654.24 607.5V594.8h1.036V607.5zM655.27 607.5V596.3h1.036V607.5zM656.31 607.5V598.4h1.036V607.5zM657.35 607.5V598.7h1.036V607.5zM658.38 607.5V598.9h1.036V607.5zM659.42 607.5V599.2h1.036V607.5zM660.45 607.5V599.5h1.036V607.5zM661.49 607.5V600.3h1.036V607.5zM662.52 607.5V601.1h1.036V607.5zM663.56 607.5V601.0h1.036V607.5zM664.60 607.5V600.3h1.036V607.5zM665.63 607.5V599.4h1.036V607.5zM666.67 607.5V597.9h1.036V607.5zM667.70 607.5V596.3h1.036V607.5zM668.74 607.5V595.5h1.036V607.5zM669.77 607.5V594.8h1.036V607.5zM670.81 607.5V594.5h1.036V607.5zM671.84 607.5V594.5h1.036V607.5zM672.88 607.5V594.5h1.036V607.5zM673.92 607.5V594.5h1.036V607.5zM674.95 607.5V594.5h1.036V607.5zM675.99 607.5V594.0h1.036V607.5zM677.02 607.5V593.3h1.036V607.5zM678.06 607.5V592.7h1.036V607.5zM679.09 607.5V592.3h1.036V607.5zM680.13 607.5V593.1h1.036V607.5zM681.17 607.5V593.6h1.036V607.5zM682.20 607.5V594.3h1.036V607.5zM683.24 607.5V595.4h1.036V607.5zM684.27 607.5V596.6h1.036V607.5zM685.31 607.5V596.9h1.036V607.5zM686.34 607.5V597.0h1.036V607.5zM687.38 607.5V597.1h1.036V607.5zM688.41 607.5V597.3h1.036V607.5zM689.45 607.5V596.9h1.036V607.5zM690.49 607.5V596.4h1.036V607.5zM691.52 607.5V594.9h1.036V607.5zM692.56 607.5V592.2h1.036V607.5zM693.59 607.5V591.4h1.036V607.5zM694.63 607.5V590.9h1.036V607.5zM695.66 607.5V589.1h1.036V607.5zM696.70 607.5V585.6h1.036V607.5zM697.74 607.5V582.3h1.036V607.5zM698.77 607.5V582.0h1.036V607.5zM699.81 607.5V581.7h1.036V607.5zM700.84 607.5V581.3h1.036V607.5zM701.88 607.5V581.0h1.036V607.5zM702.91 607.5V580.7h1.036V607.5zM703.95 607.5V582.9h1.036V607.5zM704.98 607.5V584.6h1.036V607.5zM706.02 607.5V583.4h1.036V607.5zM707.06 607.5V581.6h1.036V607.5zM708.09 607.5V580.5h1.036V607.5zM709.13 607.5V580.2h1.036V607.5zM710.16 607.5V579.7h1.036V607.5zM711.20 607.5V577.1h1.036V607.5zM712.23 607.5V575.3h1.036V607.5zM713.27 607.5V574.1h1.036V607.5zM714.31 607.5V579.7h1.036V607.5zM715.34 607.5V583.3h1.036V607.5zM716.38 607.5V584.8h1.036V607.5zM717.41 607.5V586.3h1.036V607.5zM718.45 607.5V588.6h1.036V607.5zM719.48 607.5V591.0h1.036V607.5zM720.52 607.5V590.8h1.036V607.5zM721.55 607.5V587.7h1.036V607.5zM722.59 607.5V587.1h1.036V607.5zM723.63 607.5V586.8h1.036V607.5zM724.66 607.5V586.6h1.036V607.5zM725.70 607.5V585.9h1.036V607.5zM726.73 607.5V585.1h1.036V607.5zM727.77 607.5V584.4h1.036V607.5zM728.80 607.5V584.0h1.036V607.5zM729.84 607.5V585.7h1.036V607.5zM730.88 607.5V585.4h1.036V607.5zM731.91 607.5V584.9h1.036V607.5zM732.95 607.5V584.3h1.036V607.5zM733.98 607.5V582.7h1.036V607.5zM735.02 607.5V581.1h1.036V607.5zM736.05 607.5V578.6h1.036V607.5zM737.09 607.5V575.9h1.036V607.5zM738.12 607.5V574.0h1.036V607.5zM739.16 607.5V573.9h1.036V607.5zM740.20 607.5V573.8h1.036V607.5zM741.23 607.5V573.7h1.036V607.5zM742.27 607.5V573.6h1.036V607.5zM743.30 607.5V579.6h1.036V607.5zM744.34 607.5V583.8h1.036V607.5zM745.37 607.5V587.5h1.036V607.5zM746.41 607.5V588.9h1.036V607.5zM747.45 607.5V590.3h1.036V607.5zM748.48 607.5V592.6h1.036V607.5zM749.52 607.5V595.1h1.036V607.5zM750.55 607.5V597.1h1.036V607.5zM751.59 607.5V598.0h1.036V607.5zM752.62 607.5V598.9h1.036V607.5zM753.66 607.5V598.7h1.036V607.5zM754.69 607.5V598.5h1.036V607.5zM755.73 607.5V596.6h1.036V607.5zM756.77 607.5V593.3h1.036V607.5zM757.80 607.5V592.5h1.036V607.5zM758.84 607.5V591.9h1.036V607.5zM759.87 607.5V591.3h1.036V607.5zM760.91 607.5V590.8h1.036V607.5zM761.94 607.5V590.4h1.036V607.5zM762.98 607.5V590.0h1.036V607.5zM764.02 607.5V589.2h1.036V607.5zM765.05 607.5V588.0h1.036V607.5zM766.09 607.5V586.9h1.036V607.5zM767.12 607.5V585.8h1.036V607.5zM768.16 607.5V584.9h1.036V607.5zM769.19 607.5V584.0h1.036V607.5zM770.23 607.5V582.7h1.036V607.5zM771.26 607.5V579.7h1.036V607.5zM772.30 607.5V576.6h1.036V607.5zM773.34 607.5V574.8h1.036V607.5zM774.37 607.5V574.5h1.036V607.5zM775.41 607.5V574.2h1.036V607.5zM776.44 607.5V571.7h1.036V607.5zM777.48 607.5V567.5h1.036V607.5zM778.51 607.5V565.3h1.036V607.5zM779.55 607.5V568.9h1.036V607.5zM780.59 607.5V570.9h1.036V607.5zM781.62 607.5V572.6h1.036V607.5zM782.66 607.5V574.5h1.036V607.5zM783.69 607.5V576.9h1.036V607.5zM784.73 607.5V579.3h1.036V607.5zM785.76 607.5V581.5h1.036V607.5zM786.80 607.5V583.5h1.036V607.5zM787.83 607.5V585.3h1.036V607.5zM788.87 607.5V586.6h1.036V607.5zM789.91 607.5V587.9h1.036V607.5zM790.94 607.5V589.3h1.036V607.5zM791.98 607.5V591.0h1.036V607.5zM793.01 607.5V592.7h1.036V607.5zM794.05 607.5V592.9h1.036V607.5zM795.08 607.5V592.5h1.036V607.5zM796.12 607.5V592.3h1.036V607.5zM797.15 607.5V592.8h1.036V607.5zM798.19 607.5V593.1h1.036V607.5zM799.23 607.5V593.6h1.036V607.5zM800.26 607.5V593.4h1.036V607.5zM801.30 607.5V592.1h1.036V607.5zM802.33 607.5V590.7h1.036V607.5zM803.37 607.5V589.0h1.036V607.5zM804.40 607.5V587.2h1.036V607.5zM805.44 607.5V584.9h1.036V607.5zM806.48 607.5V582.2h1.036V607.5zM807.51 607.5V579.4h1.036V607.5zM808.55 607.5V575.2h1.036V607.5zM809.58 607.5V575.8h1.036V607.5zM810.62 607.5V576.6h1.036V607.5zM811.65 607.5V577.5h1.036V607.5zM812.69 607.5V578.2h1.036V607.5zM813.72 607.5V578.9h1.036V607.5zM814.76 607.5V581.8h1.036V607.5zM815.80 607.5V585.2h1.036V607.5zM816.83 607.5V587.3h1.036V607.5zM817.87 607.5V589.3h1.036V607.5zM818.90 607.5V590.0h1.036V607.5zM819.94 607.5V590.3h1.036V607.5zM820.97 607.5V590.5h1.036V607.5zM822.01 607.5V590.9h1.036V607.5zM823.05 607.5V591.5h1.036V607.5zM824.08 607.5V592.0h1.036V607.5zM825.12 607.5V592.5h1.036V607.5zM826.15 607.5V593.0h1.036V607.5zM827.19 607.5V593.5h1.036V607.5zM828.22 607.5V594.0h1.036V607.5zM829.26 607.5V594.4h1.036V607.5zM830.29 607.5V594.7h1.036V607.5zM831.33 607.5V594.6h1.036V607.5zM832.37 607.5V594.3h1.036V607.5zM833.40 607.5V594.1h1.036V607.5zM834.44 607.5V593.2h1.036V607.5zM835.47 607.5V591.8h1.036V607.5zM836.51 607.5V590.6h1.036V607.5zM837.54 607.5V590.1h1.036V607.5zM838.58 607.5V589.5h1.036V607.5zM839.62 607.5V589.9h1.036V607.5zM840.65 607.5V590.4h1.036V607.5zM841.69 607.5V590.9h1.036V607.5zM842.72 607.5V591.8h1.036V607.5zM843.76 607.5V593.0h1.036V607.5zM844.79 607.5V594.0h1.036V607.5zM845.83 607.5V594.0h1.036V607.5zM846.86 607.5V594.0h1.036V607.5zM847.90 607.5V594.0h1.036V607.5zM848.94 607.5V593.7h1.036V607.5zM849.97 607.5V592.3h1.036V607.5zM851.01 607.5V590.9h1.036V607.5zM852.04 607.5V589.9h1.036V607.5zM853.08 607.5V589.0h1.036V607.5zM854.11 607.5V588.5h1.036V607.5zM855.15 607.5V588.5h1.036V607.5zM856.19 607.5V588.5h1.036V607.5zM857.22 607.5V588.9h1.036V607.5zM858.26 607.5V591.3h1.036V607.5zM859.29 607.5V592.9h1.036V607.5zM860.33 607.5V593.9h1.036V607.5zM861.36 607.5V595.1h1.036V607.5zM862.40 607.5V596.6h1.036V607.5zM863.43 607.5V598.1h1.036V607.5zM864.47 607.5V597.5h1.036V607.5zM865.51 607.5V595.7h1.036V607.5zM866.54 607.5V591.5h1.036V607.5zM867.58 607.5V589.2h1.036V607.5zM868.61 607.5V588.2h1.036V607.5zM869.65 607.5V587.1h1.036V607.5zM870.68 607.5V585.2h1.036V607.5zM871.72 607.5V586.6h1.036V607.5zM872.76 607.5V589.0h1.036V607.5zM873.79 607.5V593.6h1.036V607.5zM874.83 607.5V596.6h1.036V607.5zM875.86 607.5V597.0h1.036V607.5zM876.90 607.5V597.4h1.036V607.5zM877.93 607.5V597.8h1.036V607.5zM878.97 607.5V597.9h1.036V607.5zM880.00 607.5V598.0h1.036V607.5zM881.04 607.5V598.1h1.036V607.5zM882.08 607.5V597.8h1.036V607.5zM883.11 607.5V597.6h1.036V607.5zM884.15 607.5V597.3h1.036V607.5zM885.18 607.5V596.6h1.036V607.5zM886.22 607.5V595.7h1.036V607.5zM887.25 607.5V595.1h1.036V607.5zM888.29 607.5V595.1h1.036V607.5zM889.33 607.5V595.1h1.036V607.5zM890.36 607.5V595.2h1.036V607.5zM891.40 607.5V595.6h1.036V607.5zM892.43 607.5V596.0h1.036V607.5zM893.47 607.5V595.4h1.036V607.5zM894.50 607.5V594.5h1.036V607.5zM895.54 607.5V592.9h1.036V607.5zM896.57 607.5V590.1h1.036V607.5zM897.61 607.5V587.3h1.036V607.5zM898.65 607.5V586.2h1.036V607.5zM899.68 607.5V584.5h1.036V607.5zM900.72 607.5V585.2h1.036V607.5zM901.75 607.5V586.4h1.036V607.5zM902.79 607.5V587.3h1.036V607.5zM903.82 607.5V584.5h1.036V607.5zM904.86 607.5V585.0h1.036V607.5zM905.90 607.5V585.4h1.036V607.5zM906.93 607.5V585.7h1.036V607.5zM907.97 607.5V586.1h1.036V607.5zM909.00 607.5V586.4h1.036V607.5zM910.04 607.5V589.0h1.036V607.5zM911.07 607.5V592.4h1.036V607.5zM912.11 607.5V596.7h1.036V607.5zM913.14 607.5V598.4h1.036V607.5zM914.18 607.5V598.3h1.036V607.5zM915.22 607.5V598.1h1.036V607.5zM916.25 607.5V598.0h1.036V607.5zM917.29 607.5V597.9h1.036V607.5zM918.32 607.5V597.8h1.036V607.5zM919.36 607.5V597.3h1.036V607.5zM920.39 607.5V595.4h1.036V607.5zM921.43 607.5V594.3h1.036V607.5zM922.47 607.5V593.9h1.036V607.5zM923.50 607.5V593.5h1.036V607.5zM924.54 607.5V593.1h1.036V607.5zM925.57 607.5V592.8h1.036V607.5zM926.61 607.5V593.9h1.036V607.5zM927.64 607.5V594.7h1.036V607.5zM928.68 607.5V594.3h1.036V607.5zM929.71 607.5V593.8h1.036V607.5zM930.75 607.5V593.3h1.036V607.5zM931.79 607.5V591.4h1.036V607.5zM932.82 607.5V589.0h1.036V607.5zM933.86 607.5V586.4h1.036V607.5zM934.89 607.5V582.4h1.036V607.5zM935.93 607.5V583.3h1.036V607.5zM936.96 607.5V584.7h1.036V607.5zM938.00 607.5V586.6h1.036V607.5zM939.04 607.5V589.6h1.036V607.5zM940.07 607.5V591.8h1.036V607.5zM941.11 607.5V592.7h1.036V607.5zM942.14 607.5V593.5h1.036V607.5zM943.18 607.5V594.7h1.036V607.5zM944.21 607.5V596.1h1.036V607.5zM945.25 607.5V597.3h1.036V607.5zM946.28 607.5V597.1h1.036V607.5zM947.32 607.5V597.0h1.036V607.5zM948.36 607.5V596.9h1.036V607.5zM949.39 607.5V596.6h1.036V607.5zM950.43 607.5V594.7h1.036V607.5zM951.46 607.5V592.8h1.036V607.5zM952.50 607.5V590.8h1.036V607.5zM953.53 607.5V588.7h1.036V607.5zM954.57 607.5V587.1h1.036V607.5zM955.60 607.5V586.4h1.036V607.5zM956.64 607.5V585.8h1.036V607.5zM957.68 607.5V585.2h1.036V607.5zM958.71 607.5V585.1h1.036V607.5zM959.75 607.5V585.0h1.036V607.5zM960.78 607.5V584.9h1.036V607.5zM961.82 607.5V583.3h1.036V607.5zM962.85 607.5V581.7h1.036V607.5zM963.89 607.5V579.5h1.036V607.5zM964.93 607.5V580.0h1.036V607.5zM965.96 607.5V580.6h1.036V607.5zM967.00 607.5V581.2h1.036V607.5zM968.03 607.5V583.6h1.036V607.5zM969.07 607.5V587.5h1.036V607.5zM970.10 607.5V589.9h1.036V607.5zM971.14 607.5V591.3h1.036V607.5zM972.17 607.5V592.7h1.036V607.5zM973.21 607.5V593.3h1.036V607.5zM974.25 607.5V593.6h1.036V607.5zM975.28 607.5V593.8h1.036V607.5zM976.32 607.5V594.2h1.036V607.5zM977.35 607.5V594.7h1.036V607.5zM978.39 607.5V595.3h1.036V607.5zM979.42 607.5V595.8h1.036V607.5zM980.46 607.5V596.3h1.036V607.5zM981.50 607.5V596.7h1.036V607.5zM982.53 607.5V595.7h1.036V607.5zM983.57 607.5V594.6h1.036V607.5zM984.60 607.5V593.4h1.036V607.5zM985.64 607.5V592.5h1.036V607.5zM986.67 607.5V591.7h1.036V607.5zM987.71 607.5V591.1h1.036V607.5zM988.74 607.5V591.6h1.036V607.5zM989.78 607.5V592.0h1.036V607.5zM990.82 607.5V592.4h1.036V607.5zM991.85 607.5V593.1h1.036V607.5zM992.89 607.5V593.8h1.036V607.5zM993.92 607.5V593.0h1.036V607.5zM994.96 607.5V591.7h1.036V607.5zM995.99 607.5V590.4h1.036V607.5zM997.03 607.5V588.9h1.036V607.5zM998.07 607.5V587.2h1.036V607.5zM999.10 607.5V585.4h1.036V607.5zM1000.14 607.5V583.2h1.036V607.5zM1001.17 607.5V585.0h1.036V607.5zM1002.21 607.5V587.2h1.036V607.5zM1003.24 607.5V589.3h1.036V607.5zM1004.28 607.5V591.3h1.036V607.5zM1005.31 607.5V592.9h1.036V607.5zM1006.35 607.5V593.9h1.036V607.5zM1007.39 607.5V595.0h1.036V607.5zM1008.42 607.5V596.4h1.036V607.5zM1009.46 607.5V597.7h1.036V607.5zM1010.49 607.5V597.8h1.036V607.5zM1011.53 607.5V597.4h1.036V607.5zM1012.56 607.5V596.8h1.036V607.5zM1013.60 607.5V597.0h1.036V607.5zM1014.64 607.5V597.3h1.036V607.5zM1015.67 607.5V597.6h1.036V607.5zM1016.71 607.5V597.9h1.036V607.5zM1017.74 607.5V598.0h1.036V607.5zM1018.78 607.5V597.8h1.036V607.5zM1019.81 607.5V597.7h1.036V607.5zM1020.85 607.5V597.5h1.036V607.5zM1021.88 607.5V597.3h1.036V607.5zM1022.92 607.5V596.7h1.036V607.5zM1023.96 607.5V595.9h1.036V607.5zM1024.99 607.5V595.1h1.036V607.5zM1026.03 607.5V593.5h1.036V607.5zM1027.06 607.5V591.1h1.036V607.5zM1028.10 607.5V588.9h1.036V607.5zM1029.13 607.5V588.6h1.036V607.5zM1030.17 607.5V588.2h1.036V607.5zM1031.21 607.5V588.9h1.036V607.5zM1032.24 607.5V590.0h1.036V607.5zM1033.28 607.5V591.4h1.036V607.5zM1034.31 607.5V593.4h1.036V607.5zM1035.35 607.5V595.3h1.036V607.5zM1036.38 607.5V597.2h1.036V607.5zM1037.42 607.5V598.3h1.036V607.5zM1038.45 607.5V598.0h1.036V607.5zM1039.49 607.5V597.6h1.036V607.5zM1040.53 607.5V597.3h1.036V607.5zM1041.56 607.5V596.9h1.036V607.5zM1042.60 607.5V596.6h1.036V607.5zM1043.63 607.5V596.2h1.036V607.5zM1044.67 607.5V595.9h1.036V607.5zM1045.70 607.5V595.5h1.036V607.5zM1046.74 607.5V595.2h1.036V607.5zM1047.78 607.5V595.0h1.036V607.5zM1048.81 607.5V594.9h1.036V607.5zM1049.85 607.5V594.7h1.036V607.5zM1050.88 607.5V594.6h1.036V607.5zM1051.92 607.5V594.5h1.036V607.5zM1052.95 607.5V594.4h1.036V607.5zM1053.99 607.5V594.3h1.036V607.5zM1055.02 607.5V594.1h1.036V607.5zM1056.06 607.5V594.0h1.036V607.5zM1057.10 607.5V593.9h1.036V607.5zM1058.13 607.5V593.5h1.036V607.5zM1059.17 607.5V593.1h1.036V607.5zM1060.20 607.5V592.7h1.036V607.5zM1061.24 607.5V592.1h1.036V607.5zM1062.27 607.5V590.8h1.036V607.5zM1063.31 607.5V589.5h1.036V607.5zM1064.35 607.5V588.2h1.036V607.5zM1065.38 607.5V587.6h1.036V607.5zM1066.42 607.5V586.8h1.036V607.5zM1067.45 607.5V587.7h1.036V607.5zM1068.49 607.5V588.7h1.036V607.5zM1069.52 607.5V589.9h1.036V607.5zM1070.56 607.5V592.7h1.036V607.5zM1071.59 607.5V594.7h1.036V607.5zM1072.63 607.5V596.1h1.036V607.5zM1073.67 607.5V597.2h1.036V607.5zM1074.70 607.5V596.9h1.036V607.5zM1075.74 607.5V596.6h1.036V607.5zM1076.77 607.5V596.4h1.036V607.5zM1077.81 607.5V595.9h1.036V607.5zM1078.84 607.5V594.0h1.036V607.5zM1079.88 607.5V595.1h1.036V607.5zM1080.92 607.5V597.2h1.036V607.5zM1081.95 607.5V597.7h1.036V607.5zM1082.99 607.5V598.2h1.036V607.5zM1084.02 607.5V598.0h1.036V607.5zM1085.06 607.5V597.4h1.036V607.5zM1086.09 607.5V596.6h1.036V607.5zM1087.13 607.5V595.2h1.036V607.5zM1088.16 607.5V594.0h1.036V607.5z" fill="#f48f19"/>
<path d="M66.12 607.5V603.7h0.800V607.5zM69.23 607.5V604.1h0.800V607.5zM72.34 607.5V604.5h0.800V607.5zM75.45 607.5V604.2h0.800V607.5zM77.52 607.5V603.9h0.800V607.5zM80.62 607.5V603.5h0.800V607.5zM83.73 607.5V605.2h0.800V607.5zM86.84 607.5V606.5h0.800V607.5zM89.94 607.5V606.4h0.800V607.5zM92.02 607.5V606.3h0.800V607.5zM95.12 607.5V606.3h0.800V607.5zM98.23 607.5V606.2h0.800V607.5zM101.34 607.5V606.1h0.800V607.5zM104.44 607.5V604.4h0.800V607.5zM106.51 607.5V602.9h0.800V607.5zM109.62 607.5V602.9h0.800V607.5zM112.73 607.5V605.1h0.800V607.5zM115.83 607.5V606.1h0.800V607.5zM118.94 607.5V606.2h0.800V607.5zM121.01 607.5V606.2h0.800V607.5zM124.12 607.5V606.3h0.800V607.5zM127.23 607.5V606.4h0.800V607.5zM130.33 607.5V606.4h0.800V607.5zM133.44 607.5V605.4h0.800V607.5zM135.51 607.5V604.5h0.800V607.5zM138.62 607.5V604.5h0.800V607.5zM141.72 607.5V605.9h0.800V607.5zM144.83 607.5V606.5h0.800V607.5zM147.94 607.5V606.5h0.800V607.5zM150.01 607.5V606.5h0.800V607.5zM153.12 607.5V606.5h0.800V607.5zM156.22 607.5V606.3h0.800V607.5zM159.33 607.5V605.0h0.800V607.5zM162.44 607.5V603.8h0.800V607.5zM164.51 607.5V603.1h0.800V607.5zM167.62 607.5V602.1h0.800V607.5zM170.72 607.5V602.1h0.800V607.5zM173.83 607.5V602.1h0.800V607.5zM176.94 607.5V602.4h0.800V607.5zM179.01 607.5V604.8h0.800V607.5zM182.11 607.5V605.2h0.800V607.5zM185.22 607.5V605.2h0.800V607.5zM188.33 607.5V605.2h0.800V607.5zM191.43 607.5V605.2h0.800V607.5zM193.51 607.5V605.5h0.800V607.5zM196.61 607.5V605.7h0.800V607.5zM199.72 607.5V603.9h0.800V607.5zM202.83 607.5V603.6h0.800V607.5zM205.93 607.5V603.8h0.800V607.5zM208.00 607.5V605.6h0.800V607.5zM211.11 607.5V606.5h0.800V607.5zM214.22 607.5V606.5h0.800V607.5zM217.33 607.5V606.5h0.800V607.5zM220.43 607.5V606.5h0.800V607.5zM222.50 607.5V606.5h0.800V607.5zM225.61 607.5V605.8h0.800V607.5zM228.72 607.5V603.9h0.800V607.5zM231.82 607.5V604.7h0.800V607.5zM234.93 607.5V605.3h0.800V607.5zM237.00 607.5V605.6h0.800V607.5zM240.11 607.5V606.0h0.800V607.5zM243.22 607.5V606.4h0.800V607.5zM246.32 607.5V606.5h0.800V607.5zM249.43 607.5V606.5h0.800V607.5zM251.50 607.5V606.5h0.800V607.5zM254.61 607.5V606.5h0.800V607.5zM257.71 607.5V606.5h0.800V607.5zM260.82 607.5V606.5h0.800V607.5zM263.93 607.5V606.5h0.800V607.5zM266.00 607.5V605.6h0.800V607.5zM269.11 607.5V603.9h0.800V607.5zM272.21 607.5V603.9h0.800V607.5zM275.32 607.5V604.5h0.800V607.5zM278.43 607.5V606.5h0.800V607.5zM280.50 607.5V606.3h0.800V607.5zM283.60 607.5V606.0h0.800V607.5zM286.71 607.5V605.6h0.800V607.5zM289.82 607.5V604.6h0.800V607.5zM292.93 607.5V603.6h0.800V607.5zM295.00 607.5V600.2h0.800V607.5zM298.10 607.5V599.0h0.800V607.5zM301.21 607.5V600.4h0.800V607.5zM304.32 607.5V603.7h0.800V607.5zM307.42 607.5V603.5h0.800V607.5zM309.50 607.5V603.4h0.800V607.5zM312.60 607.5V603.2h0.800V607.5zM315.71 607.5V602.8h0.800V607.5zM318.82 607.5V602.4h0.800V607.5zM321.92 607.5V600.9h0.800V607.5zM323.99 607.5V599.0h0.800V607.5zM327.10 607.5V600.0h0.800V607.5zM330.21 607.5V602.6h0.800V607.5zM333.31 607.5V603.2h0.800V607.5zM336.42 607.5V603.2h0.800V607.5zM338.49 607.5V603.2h0.800V607.5zM341.60 607.5V603.2h0.800V607.5zM344.71 607.5V603.1h0.800V607.5zM347.81 607.5V602.9h0.800V607.5zM350.92 607.5V602.8h0.800V607.5zM352.99 607.5V602.4h0.800V607.5zM356.10 607.5V601.6h0.800V607.5zM359.21 607.5V601.2h0.800V607.5zM362.31 607.5V600.9h0.800V607.5zM365.42 607.5V600.6h0.800V607.5zM367.49 607.5V600.4h0.800V607.5zM370.60 607.5V600.1h0.800V607.5zM373.70 607.5V599.4h0.800V607.5zM376.81 607.5V595.3h0.800V607.5zM379.92 607.5V594.3h0.800V607.5zM381.99 607.5V596.2h0.800V607.5zM385.10 607.5V601.7h0.800V607.5zM388.20 607.5V600.6h0.800V607.5zM391.31 607.5V599.9h0.800V607.5zM394.42 607.5V601.4h0.800V607.5zM396.49 607.5V603.0h0.800V607.5zM399.59 607.5V605.3h0.800V607.5zM402.70 607.5V604.9h0.800V607.5zM405.81 607.5V604.2h0.800V607.5zM408.92 607.5V602.8h0.800V607.5zM410.99 607.5V601.3h0.800V607.5zM414.09 607.5V600.3h0.800V607.5zM417.20 607.5V599.1h0.800V607.5zM420.31 607.5V597.8h0.800V607.5zM423.41 607.5V596.7h0.800V607.5zM425.49 607.5V596.0h0.800V607.5zM428.59 607.5V593.8h0.800V607.5zM431.70 607.5V591.5h0.800V607.5zM434.81 607.5V588.7h0.800V607.5zM437.91 607.5V590.6h0.800V607.5zM439.98 607.5V591.0h0.800V607.5zM443.09 607.5V591.9h0.800V607.5zM446.20 607.5V591.0h0.800V607.5zM449.30 607.5V591.3h0.800V607.5zM452.41 607.5V590.5h0.800V607.5zM454.48 607.5V589.3h0.800V607.5zM457.59 607.5V587.8h0.800V607.5zM460.70 607.5V591.1h0.800V607.5zM463.80 607.5V597.4h0.800V607.5zM466.91 607.5V598.3h0.800V607.5zM468.98 607.5V597.0h0.800V607.5zM472.09 607.5V595.8h0.800V607.5zM475.19 607.5V594.4h0.800V607.5zM478.30 607.5V593.1h0.800V607.5zM481.41 607.5V592.8h0.800V607.5zM483.48 607.5V593.4h0.800V607.5zM486.59 607.5V593.1h0.800V607.5zM489.69 607.5V595.5h0.800V607.5zM492.80 607.5V597.1h0.800V607.5zM495.91 607.5V598.2h0.800V607.5zM497.98 607.5V598.8h0.800V607.5zM501.09 607.5V600.7h0.800V607.5zM504.19 607.5V602.5h0.800V607.5zM507.30 607.5V601.2h0.800V607.5zM510.41 607.5V599.4h0.800V607.5zM512.48 607.5V599.0h0.800V607.5zM515.58 607.5V597.5h0.800V607.5zM518.69 607.5V596.7h0.800V607.5zM521.80 607.5V596.7h0.800V607.5zM524.90 607.5V595.7h0.800V607.5zM526.98 607.5V595.1h0.800V607.5zM530.08 607.5V597.5h0.800V607.5zM533.19 607.5V599.5h0.800V607.5zM536.30 607.5V599.3h0.800V607.5zM539.40 607.5V597.6h0.800V607.5zM541.47 607.5V598.5h0.800V607.5zM544.58 607.5V599.0h0.800V607.5zM547.69 607.5V600.2h0.800V607.5zM550.80 607.5V597.1h0.800V607.5zM553.90 607.5V595.2h0.800V607.5zM555.97 607.5V595.4h0.800V607.5zM559.08 607.5V600.3h0.800V607.5zM562.19 607.5V601.2h0.800V607.5zM565.29 607.5V600.1h0.800V607.5zM568.40 607.5V600.1h0.800V607.5zM570.47 607.5V600.1h0.800V607.5zM573.58 607.5V598.9h0.800V607.5zM576.69 607.5V595.1h0.800V607.5zM579.79 607.5V593.6h0.800V607.5zM582.90 607.5V591.7h0.800V607.5zM584.97 607.5V593.7h0.800V607.5zM588.08 607.5V594.9h0.800V607.5zM591.18 607.5V595.8h0.800V607.5zM594.29 607.5V594.3h0.800V607.5zM597.40 607.5V595.4h0.800V607.5zM599.47 607.5V595.8h0.800V607.5zM602.58 607.5V600.1h0.800V607.5zM605.68 607.5V600.4h0.800V607.5zM608.79 607.5V600.2h0.800V607.5zM611.90 607.5V598.6h0.800V607.5zM613.97 607.5V596.3h0.800V607.5zM617.07 607.5V593.8h0.800V607.5zM620.18 607.5V592.6h0.800V607.5zM623.29 607.5V597.8h0.800V607.5zM626.40 607.5V600.0h0.800V607.5zM628.47 607.5V599.8h0.800V607.5zM631.57 607.5V598.9h0.800V607.5zM634.68 607.5V599.5h0.800V607.5zM637.79 607.5V599.4h0.800V607.5zM640.89 607.5V598.0h0.800V607.5zM642.97 607.5V596.7h0.800V607.5zM646.07 607.5V595.1h0.800V607.5zM649.18 607.5V594.2h0.800V607.5zM652.29 607.5V594.9h0.800V607.5zM655.39 607.5V596.6h0.800V607.5zM657.46 607.5V599.0h0.800V607.5zM660.57 607.5V599.8h0.800V607.5zM663.68 607.5V601.3h0.800V607.5zM666.78 607.5V598.2h0.800V607.5zM669.89 607.5V595.1h0.800V607.5zM671.96 607.5V594.8h0.800V607.5zM675.07 607.5V594.8h0.800V607.5zM678.18 607.5V593.0h0.800V607.5zM681.28 607.5V593.9h0.800V607.5zM684.39 607.5V596.9h0.800V607.5zM686.46 607.5V597.3h0.800V607.5zM689.57 607.5V597.2h0.800V607.5zM692.68 607.5V592.5h0.800V607.5zM695.78 607.5V589.4h0.800V607.5zM698.89 607.5V582.3h0.800V607.5zM700.96 607.5V581.6h0.800V607.5zM704.07 607.5V583.2h0.800V607.5zM707.17 607.5V581.9h0.800V607.5zM710.28 607.5V580.0h0.800V607.5zM713.39 607.5V574.4h0.800V607.5zM715.46 607.5V583.6h0.800V607.5zM718.57 607.5V588.9h0.800V607.5zM721.67 607.5V588.0h0.800V607.5zM724.78 607.5V586.9h0.800V607.5zM727.89 607.5V584.7h0.800V607.5zM729.96 607.5V586.0h0.800V607.5zM733.06 607.5V584.6h0.800V607.5zM736.17 607.5V578.9h0.800V607.5zM739.28 607.5V574.2h0.800V607.5zM742.38 607.5V573.9h0.800V607.5zM744.46 607.5V584.1h0.800V607.5zM747.56 607.5V590.6h0.800V607.5zM750.67 607.5V597.4h0.800V607.5zM753.78 607.5V599.0h0.800V607.5zM756.88 607.5V593.6h0.800V607.5zM758.95 607.5V592.2h0.800V607.5zM762.06 607.5V590.7h0.800V607.5zM765.17 607.5V588.3h0.800V607.5zM768.28 607.5V585.2h0.800V607.5zM771.38 607.5V580.0h0.800V607.5zM773.45 607.5V575.1h0.800V607.5zM776.56 607.5V572.0h0.800V607.5zM779.67 607.5V569.2h0.800V607.5zM782.77 607.5V574.8h0.800V607.5zM785.88 607.5V581.8h0.800V607.5zM787.95 607.5V585.6h0.800V607.5zM791.06 607.5V589.6h0.800V607.5zM794.17 607.5V593.2h0.800V607.5zM797.27 607.5V593.1h0.800V607.5zM800.38 607.5V593.7h0.800V607.5zM802.45 607.5V591.0h0.800V607.5zM805.56 607.5V585.2h0.800V607.5zM808.66 607.5V575.5h0.800V607.5zM811.77 607.5V577.8h0.800V607.5zM814.88 607.5V582.1h0.800V607.5zM816.95 607.5V587.6h0.800V607.5zM820.06 607.5V590.6h0.800V607.5zM823.16 607.5V591.8h0.800V607.5zM826.27 607.5V593.3h0.800V607.5zM829.38 607.5V594.7h0.800V607.5zM831.45 607.5V594.9h0.800V607.5zM834.56 607.5V593.5h0.800V607.5zM837.66 607.5V590.4h0.800V607.5zM840.77 607.5V590.7h0.800V607.5zM843.88 607.5V593.3h0.800V607.5zM845.95 607.5V594.3h0.800V607.5zM849.05 607.5V594.0h0.800V607.5zM852.16 607.5V590.2h0.800V607.5zM855.27 607.5V588.8h0.800V607.5zM858.37 607.5V591.6h0.800V607.5zM860.45 607.5V594.2h0.800V607.5zM863.55 607.5V598.4h0.800V607.5zM866.66 607.5V591.8h0.800V607.5zM869.77 607.5V587.4h0.800V607.5zM872.87 607.5V589.3h0.800V607.5zM874.94 607.5V596.9h0.800V607.5zM878.05 607.5V598.1h0.800V607.5zM881.16 607.5V598.4h0.800V607.5zM884.26 607.5V597.6h0.800V607.5zM887.37 607.5V595.4h0.800V607.5zM889.44 607.5V595.4h0.800V607.5zM892.55 607.5V596.3h0.800V607.5zM895.66 607.5V593.2h0.800V607.5zM898.76 607.5V586.5h0.800V607.5zM901.87 607.5V586.7h0.800V607.5zM903.94 607.5V584.8h0.800V607.5zM907.05 607.5V586.0h0.800V607.5zM910.16 607.5V589.3h0.800V607.5zM913.26 607.5V598.7h0.800V607.5zM916.37 607.5V598.3h0.800V607.5zM918.44 607.5V598.1h0.800V607.5zM921.55 607.5V594.6h0.800V607.5zM924.65 607.5V593.4h0.800V607.5zM927.76 607.5V595.0h0.800V607.5zM930.87 607.5V593.6h0.800V607.5zM932.94 607.5V589.3h0.800V607.5zM936.05 607.5V583.6h0.800V607.5zM939.15 607.5V589.9h0.800V607.5zM942.26 607.5V593.8h0.800V607.5zM945.37 607.5V597.6h0.800V607.5zM947.44 607.5V597.3h0.800V607.5zM950.54 607.5V595.0h0.800V607.5zM953.65 607.5V589.0h0.800V607.5zM956.76 607.5V586.1h0.800V607.5zM959.87 607.5V585.3h0.800V607.5zM961.94 607.5V583.6h0.800V607.5zM965.04 607.5V580.3h0.800V607.5zM968.15 607.5V583.9h0.800V607.5zM971.26 607.5V591.6h0.800V607.5zM974.36 607.5V593.9h0.800V607.5zM976.44 607.5V594.5h0.800V607.5zM979.54 607.5V596.1h0.800V607.5zM982.65 607.5V596.0h0.800V607.5zM985.76 607.5V592.8h0.800V607.5zM988.86 607.5V591.9h0.800V607.5zM990.93 607.5V592.7h0.800V607.5zM994.04 607.5V593.3h0.800V607.5zM997.15 607.5V589.2h0.800V607.5zM1000.25 607.5V583.5h0.800V607.5zM1003.36 607.5V589.6h0.800V607.5zM1005.43 607.5V593.2h0.800V607.5zM1008.54 607.5V596.7h0.800V607.5zM1011.65 607.5V597.7h0.800V607.5zM1014.75 607.5V597.6h0.800V607.5zM1017.86 607.5V598.3h0.800V607.5zM1019.93 607.5V598.0h0.800V607.5zM1023.04 607.5V597.0h0.800V607.5zM1026.14 607.5V593.8h0.800V607.5zM1029.25 607.5V588.9h0.800V607.5zM1032.36 607.5V590.3h0.800V607.5zM1034.43 607.5V593.7h0.800V607.5zM1037.54 607.5V598.6h0.800V607.5zM1040.64 607.5V597.6h0.800V607.5zM1043.75 607.5V596.5h0.800V607.5zM1046.86 607.5V595.5h0.800V607.5zM1048.93 607.5V595.2h0.800V607.5zM1052.04 607.5V594.8h0.800V607.5zM1055.14 607.5V594.4h0.800V607.5zM1058.25 607.5V593.8h0.800V607.5zM1061.36 607.5V592.4h0.800V607.5zM1063.43 607.5V589.8h0.800V607.5zM1066.53 607.5V587.1h0.800V607.5zM1069.64 607.5V590.2h0.800V607.5zM1072.75 607.5V596.4h0.800V607.5zM1075.85 607.5V596.9h0.800V607.5zM1077.93 607.5V596.2h0.800V607.5zM1081.03 607.5V597.5h0.800V607.5zM1084.14 607.5V598.3h0.800V607.5zM1087.25 607.5V595.5h0.800V607.5z" fill="#7a5a50" fill-opacity=".11"/>
<path d="M62.5 453.2L63.7 447.4L65.0 449.1L66.3 446.6L67.5 450.7L68.7 446.6L70.0 449.9L71.6 449.1L73.0 452.4L74.6 445.7L76.3 446.6L77.5 444.9L79.1 445.7L80.0 449.1L81.3 446.6L83.3 447.4L85.0 447.9L86.3 443.2L87.5 436.6L89.1 437.4L90.8 434.6L92.4 434.1L94.1 437.4L95.3 434.6L96.6 442.4L97.9 448.2L99.1 451.5L100.8 449.1L102.4 449.9L104.1 444.1L105.3 439.6L107.4 440.2L108.6 440.7L109.4 446.6L110.7 442.4L111.9 442.9L113.2 439.1L114.9 443.2L116.6 448.2L118.2 449.9L119.9 454.0L121.6 454.5L124.1 452.4L125.7 451.2L126.9 453.5L129.1 453.2L130.2 454.5L132.0 452.4L133.2 456.9L134.9 455.7L136.5 451.5L137.4 447.1L139.0 448.2L140.7 452.4L142.4 453.7L143.2 451.9L144.9 453.2L145.7 460.7L146.5 451.9L148.2 456.2L149.9 456.5L151.2 459.5L153.2 459.9L154.5 460.7L155.7 464.5L157.3 457.9L159.0 456.5L160.2 455.7L161.2 446.6L162.3 438.2L164.0 434.1L165.7 433.6L167.3 434.6L169.0 433.2L169.8 436.2L171.8 434.1L174.0 433.2L175.1 430.7L176.5 432.9L178.1 436.9L179.8 436.2L182.3 434.9L184.0 433.2L185.6 429.1L186.5 434.1L188.1 434.9L190.6 436.6L192.3 437.9L194.8 437.4L196.4 436.9L197.3 441.2L199.8 440.7L203.1 440.4L205.6 439.1L207.3 441.2L209.8 441.9L211.4 441.6L213.1 437.9L215.6 439.1L218.1 439.4L220.1 440.2L221.1 443.2L222.2 453.2L223.4 459.0L225.6 458.2L227.2 458.7L228.9 456.5L230.5 458.7L233.0 459.0L233.9 456.5L235.0 448.6L236.0 451.5L237.2 459.9L239.7 460.2L242.2 459.9L242.5 460.4L244.2 458.2L246.7 460.7L248.3 464.9L250.0 459.0L252.0 455.7L255.0 455.2L257.0 451.9L259.1 454.9L261.6 456.5L264.1 458.2L265.8 454.0L268.0 453.2L269.6 448.2L271.6 449.9L274.1 448.2L276.6 447.9L278.6 450.7L280.8 454.5L282.9 454.5L284.6 451.5L285.8 445.2L287.9 444.9L289.6 439.1L291.2 437.4L292.4 423.3L293.6 417.4L294.9 415.4L297.4 417.4L299.9 414.9L301.9 411.6L304.1 413.6L307.4 412.4L309.9 408.3L311.9 403.0L314.0 405.0L315.7 410.8L316.9 400.8L318.2 406.6L319.9 405.0L321.5 402.5L323.2 408.3L324.5 402.5L326.5 401.3L329.0 402.5L330.7 400.8L332.3 400.8L334.5 395.0L336.2 391.6L338.0 377.2L342.1 377.6L344.1 386.7L346.5 381.2L350.1 385.7L354.5 377.6L358.2 379.6L360.2 379.2L363.2 383.7L365.2 383.7L366.8 374.0L368.2 379.6L371.2 376.6L373.3 367.6L376.3 368.6L378.3 381.6L380.3 384.7L382.3 380.6L384.3 386.7L386.3 385.7L388.4 393.7L391.0 391.7L393.4 383.7L395.4 380.6L397.4 382.6L399.4 380.6L403.4 381.6L406.5 369.6L409.5 358.5L412.5 351.5L415.5 351.5L418.5 351.1L421.5 354.5L423.6 352.5L425.6 337.4L427.0 323.3L429.6 322.9L431.6 310.2L433.0 318.3L434.6 312.2L436.6 308.2L438.7 306.2L440.3 300.2L442.1 299.1L443.7 306.2L445.1 315.2L446.7 311.2L448.1 323.3L449.7 311.2L450.7 319.3L452.7 311.2L454.7 305.2L457.8 305.2L460.8 303.2L462.8 314.2L465.2 310.2L467.8 307.2L469.2 302.2L471.9 305.2L473.9 314.2L475.9 318.3L477.9 324.3L479.9 318.3L483.9 313.2L485.9 318.3L489.0 320.3L491.0 322.3L493.4 333.4L495.4 322.3L497.4 319.3L500.0 324.3L503.0 326.3L506.1 323.3L508.1 314.2L511.1 312.2L513.1 302.2L516.1 309.2L519.1 307.2L523.2 310.2L526.2 309.2L529.2 303.2L532.2 305.2L535.2 306.8L537.2 311.2L540.3 314.2L542.3 313.2L545.3 317.3L548.3 320.3L549.9 328.3L552.3 326.3L554.3 327.3L556.4 322.3L558.4 324.3L560.0 335.4L560.8 336.5L562.5 337.9L563.6 340.2L565.0 335.7L566.6 335.2L568.3 335.7L570.0 329.9L571.6 319.1L573.0 316.6L574.6 317.9L576.3 311.6L578.0 309.6L579.6 311.6L580.8 315.2L582.4 314.1L583.6 309.9L585.3 309.1L587.4 313.2L589.6 316.6L590.8 324.9L592.4 333.2L593.6 345.7L595.3 341.5L596.3 331.5L597.4 324.9L599.1 327.4L599.9 331.5L601.6 327.9L603.2 334.5L604.9 333.2L606.6 331.2L608.2 331.9L609.9 328.2L611.2 326.5L612.4 319.9L614.1 318.2L615.4 319.1L616.6 328.2L617.9 331.2L619.9 332.4L621.5 334.9L623.2 331.9L625.2 336.5L626.5 343.2L627.9 345.7L629.5 342.4L630.7 336.5L632.4 334.9L634.0 330.7L635.2 327.9L637.4 333.5L639.0 326.5L640.7 321.6L642.8 319.9L644.8 319.9L646.5 318.2L648.2 315.7L649.8 314.4L651.2 315.7L652.3 321.6L654.0 327.4L656.5 325.7L659.0 322.1L661.1 324.9L662.8 328.2L664.5 322.4L665.6 320.7L667.3 313.2L669.0 310.7L670.6 309.6L672.8 308.2L674.5 310.7L676.5 312.4L677.8 309.9L679.0 312.4L680.6 308.2L681.8 303.3L683.1 299.1L684.4 302.4L685.0 304.7L687.0 306.7L689.4 309.7L691.0 293.6L694.1 289.6L696.1 269.4L698.1 265.4L699.5 270.5L700.7 265.4L703.5 265.4L705.1 259.4L707.1 251.3L709.1 252.3L711.2 259.4L712.2 262.4L714.2 255.4L717.2 254.4L719.6 255.4L721.2 251.3L724.2 248.3L726.2 254.4L727.7 248.3L730.3 247.3L732.3 241.3L734.3 240.9L736.3 252.3L739.3 257.4L741.3 250.3L743.4 253.4L744.4 257.4L747.8 261.4L750.4 255.4L752.4 252.3L755.0 246.3L756.4 253.4L758.4 261.4L760.5 258.4L762.5 258.4L764.5 250.3L766.5 243.3L769.5 246.3L771.1 240.9L773.5 243.3L775.9 242.9L778.0 246.9L780.6 242.3L782.6 248.3L783.6 253.4L784.6 247.7L786.6 254.4L789.6 255.0L792.6 255.0L794.7 253.4L797.7 254.4L799.7 256.4L802.1 253.4L804.7 255.0L806.7 262.4L808.7 276.5L811.4 275.5L812.8 259.0L813.8 270.5L815.8 264.4L817.8 267.4L819.4 275.5L821.4 286.5L822.8 277.5L824.8 280.5L826.9 277.1L828.9 277.9L830.9 272.5L832.9 277.1L835.5 271.1L838.9 271.1L840.9 277.5L842.9 279.5L845.0 275.5L847.6 278.5L849.0 283.5L851.6 291.6L853.0 279.5L855.0 281.5L856.4 274.5L859.0 276.5L862.1 275.5L864.1 274.5L865.1 269.4L866.7 260.4L869.1 259.0L872.1 259.0L875.1 257.4L877.2 255.0L879.8 258.4L882.2 253.4L884.2 243.3L887.2 243.3L889.2 244.3L892.2 243.3L894.3 240.9L896.3 237.3L897.9 232.8L899.3 238.3L901.9 235.8L903.9 237.3L906.3 243.3L909.3 242.3L911.4 241.3L912.8 246.9L915.0 240.3L915.3 240.7L916.6 234.6L918.3 234.9L919.6 240.7L921.6 241.2L923.6 239.9L925.0 242.4L926.6 242.4L928.6 244.6L930.3 247.9L931.6 241.6L933.3 239.1L935.8 238.6L937.9 237.4L939.6 240.7L941.3 235.7L942.9 237.4L945.8 236.9L947.9 234.1L949.1 225.8L950.8 223.6L953.3 221.6L954.9 223.6L956.9 222.4L959.1 224.6L960.7 224.9L962.1 221.3L964.1 223.6L965.7 224.1L967.4 221.9L969.1 224.1L970.7 224.9L972.9 231.3L974.9 228.6L976.9 228.6L978.2 224.9L980.2 225.8L981.9 222.9L983.2 221.9L984.9 216.6L986.2 224.1L988.2 224.6L989.9 225.8L991.5 230.8L993.2 229.9L994.5 225.4L996.2 229.6L997.3 234.6L999.0 232.4L1000.2 231.3L1001.8 236.9L1004.0 236.9L1006.2 232.9L1008.2 233.6L1009.8 234.6L1012.3 233.3L1014.0 231.9L1015.6 227.4L1017.3 226.3L1019.5 226.6L1021.5 224.9L1023.5 225.8L1025.6 228.6L1027.3 230.3L1029.0 230.8L1030.1 235.7L1031.8 234.9L1033.5 229.6L1034.8 228.3L1036.4 221.9L1038.1 218.3L1039.8 216.9L1041.4 215.4L1043.1 217.4L1044.4 218.3L1045.6 226.6L1046.4 233.6L1047.8 228.3L1048.9 227.9L1050.6 233.3L1052.3 238.2L1053.4 239.9L1054.8 237.4L1056.1 234.6L1057.2 238.2L1058.9 235.7L1060.6 232.4L1062.2 228.6L1063.9 229.1L1065.6 233.3L1066.7 236.9L1068.1 234.9L1069.7 234.1L1071.1 241.6L1072.2 247.4L1073.9 244.1L1075.0 246.6L1076.7 243.2L1078.4 240.7L1079.7 245.7L1081.0 249.1L1082.2 256.5L1083.9 257.4L1085.5 261.5L1087.2 262.4L1088.0 268.2L1088.5 272.4" fill="none" stroke="#000" stroke-width="2.1" stroke-linejoin="round" stroke-linecap="butt"/>
<line x1="62.1" x2="62.1" y1="141.5" y2="607.5" stroke="#404040" stroke-width="1.35"/>
<line x1="1091.4" x2="1091.4" y1="141.5" y2="607.5" stroke="#f9a03f" stroke-width="1.3"/>
<text x="44.9" y="47.2" font-size="16.4" text-anchor="start" textLength="196.5" lengthAdjust="spacing" class="lg">Futures Volume Calendar</text><text x="312.5" y="47.2" font-size="16.4" text-anchor="start" textLength="414.7" lengthAdjust="spacing" class="lg">BTC: Futures Volume Perpetual - All Exchanges [USD]</text><text x="799.5" y="47.2" font-size="16.4" text-anchor="start" textLength="126.0" lengthAdjust="spacing" class="lg">BTC: Price [USD]</text><text x="18.3" y="286.8" font-size="12.6" text-anchor="start" textLength="29.0" lengthAdjust="spacing">$80k</text><text x="18.3" y="396.0" font-size="12.6" text-anchor="start" textLength="29.0" lengthAdjust="spacing">$40k</text><text x="18.3" y="609.9" font-size="12.6" text-anchor="start" textLength="29.0" lengthAdjust="spacing">$10k</text><text x="1106.2" y="211.2" font-size="12.6" text-anchor="start" textLength="30.0" lengthAdjust="spacing">120B</text><text x="1106.2" y="344.1" font-size="12.6" text-anchor="start" textLength="22.5" lengthAdjust="spacing">80B</text><text x="1106.2" y="477.3" font-size="12.6" text-anchor="start" textLength="22.5" lengthAdjust="spacing">40B</text><text x="1106.2" y="610.6" font-size="12.6" text-anchor="start" textLength="7.2" lengthAdjust="spacing">0</text><text x="156.5" y="637.4" font-size="12.9" text-anchor="start" textLength="36.0" lengthAdjust="spacing">Jul 23</text><text x="343.8" y="637.4" font-size="12.9" text-anchor="start" textLength="40.2" lengthAdjust="spacing">Jan 24</text><text x="536.7" y="637.4" font-size="12.9" text-anchor="start" textLength="36.0" lengthAdjust="spacing">Jul 24</text><text x="724.0" y="637.4" font-size="12.9" text-anchor="start" textLength="40.2" lengthAdjust="spacing">Jan 25</text><text x="916.0" y="637.4" font-size="12.9" text-anchor="start" textLength="35.6" lengthAdjust="spacing">Jul 25</text>
</svg>
</body></html>
